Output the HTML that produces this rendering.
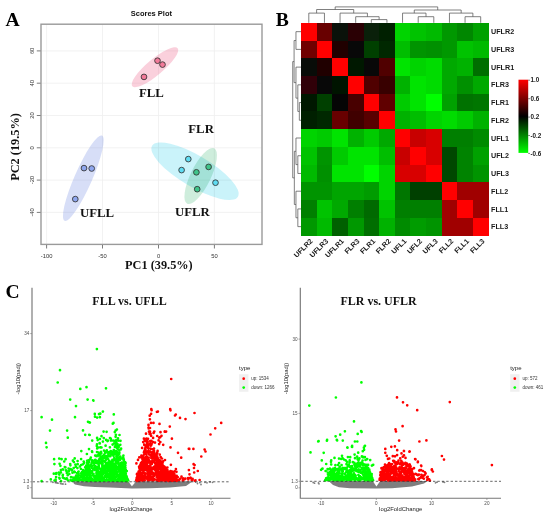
<!DOCTYPE html>
<html><head><meta charset="utf-8"><style>
html,body{margin:0;padding:0;background:#fff;}
body{width:550px;height:517px;overflow:hidden;font-family:"Liberation Sans", sans-serif;}
svg{display:block;will-change:transform;}
</style></head><body>
<svg width="550" height="517" viewBox="0 0 550 517">
<rect width="550" height="517" fill="#fff"/>
<text x="5.6" y="25.8" font-size="19.6" font-weight="bold" fill="#000" font-family='"Liberation Serif", serif'>A</text>
<text x="275.8" y="25.9" font-size="19.6" font-weight="bold" fill="#000" font-family='"Liberation Serif", serif'>B</text>
<g id="pca">
<line x1="46.6" y1="24" x2="46.6" y2="244" stroke="#efefef" stroke-width="0.8"/>
<line x1="102.5" y1="24" x2="102.5" y2="244" stroke="#efefef" stroke-width="0.8"/>
<line x1="158.5" y1="24" x2="158.5" y2="244" stroke="#efefef" stroke-width="0.8"/>
<line x1="214.4" y1="24" x2="214.4" y2="244" stroke="#efefef" stroke-width="0.8"/>
<line x1="41.5" y1="212.4" x2="261.5" y2="212.4" stroke="#efefef" stroke-width="0.8"/>
<line x1="41.5" y1="180.1" x2="261.5" y2="180.1" stroke="#efefef" stroke-width="0.8"/>
<line x1="41.5" y1="147.8" x2="261.5" y2="147.8" stroke="#efefef" stroke-width="0.8"/>
<line x1="41.5" y1="115.5" x2="261.5" y2="115.5" stroke="#efefef" stroke-width="0.8"/>
<line x1="41.5" y1="83.2" x2="261.5" y2="83.2" stroke="#efefef" stroke-width="0.8"/>
<line x1="41.5" y1="50.9" x2="261.5" y2="50.9" stroke="#efefef" stroke-width="0.8"/>
<ellipse cx="155.0" cy="67.2" rx="29.6" ry="8.0" transform="rotate(-40 155.0 67.2)" fill="rgba(240,110,145,0.32)"/>
<ellipse cx="83.3" cy="178.2" rx="46.5" ry="8.8" transform="rotate(-66.3 83.3 178.2)" fill="rgba(110,135,225,0.28)"/>
<ellipse cx="200.7" cy="176.0" rx="30.8" ry="10.1" transform="rotate(-64 200.7 176.0)" fill="rgba(80,190,130,0.28)"/>
<ellipse cx="195.0" cy="171.2" rx="49.9" ry="15.6" transform="rotate(30.7 195.0 171.2)" fill="rgba(60,210,235,0.27)" style="mix-blend-mode:multiply"/>
<circle cx="157.5" cy="60.7" r="2.85" fill="#f27a99" stroke="#333" stroke-width="0.85"/>
<circle cx="162.5" cy="64.6" r="2.85" fill="#f27a99" stroke="#333" stroke-width="0.85"/>
<circle cx="144.0" cy="76.9" r="2.85" fill="#f27a99" stroke="#333" stroke-width="0.85"/>
<circle cx="84.0" cy="168.1" r="2.85" fill="#8ea6ee" stroke="#333" stroke-width="0.85"/>
<circle cx="91.7" cy="168.5" r="2.85" fill="#8ea6ee" stroke="#333" stroke-width="0.85"/>
<circle cx="75.3" cy="199.1" r="2.85" fill="#8ea6ee" stroke="#333" stroke-width="0.85"/>
<circle cx="188.3" cy="159.1" r="2.85" fill="#5fdcf2" stroke="#333" stroke-width="0.85"/>
<circle cx="181.6" cy="170.1" r="2.85" fill="#5fdcf2" stroke="#333" stroke-width="0.85"/>
<circle cx="215.5" cy="182.7" r="2.85" fill="#5fdcf2" stroke="#333" stroke-width="0.85"/>
<circle cx="208.6" cy="166.9" r="2.85" fill="#3fc48a" stroke="#333" stroke-width="0.85"/>
<circle cx="196.4" cy="172.3" r="2.85" fill="#3fc48a" stroke="#333" stroke-width="0.85"/>
<circle cx="197.2" cy="189.2" r="2.85" fill="#3fc48a" stroke="#333" stroke-width="0.85"/>
<rect x="41" y="24.2" width="221" height="220.2" fill="none" stroke="#9a9a9a" stroke-width="1.4"/>
<line x1="46.6" y1="245" x2="46.6" y2="248.5" stroke="#444" stroke-width="0.7"/>
<text x="46.6" y="258" font-size="5.8" text-anchor="middle" fill="#333" font-family='"Liberation Sans", sans-serif'>-100</text>
<line x1="102.5" y1="245" x2="102.5" y2="248.5" stroke="#444" stroke-width="0.7"/>
<text x="102.5" y="258" font-size="5.8" text-anchor="middle" fill="#333" font-family='"Liberation Sans", sans-serif'>-50</text>
<line x1="158.5" y1="245" x2="158.5" y2="248.5" stroke="#444" stroke-width="0.7"/>
<text x="158.5" y="258" font-size="5.8" text-anchor="middle" fill="#333" font-family='"Liberation Sans", sans-serif'>0</text>
<line x1="214.4" y1="245" x2="214.4" y2="248.5" stroke="#444" stroke-width="0.7"/>
<text x="214.4" y="258" font-size="5.8" text-anchor="middle" fill="#333" font-family='"Liberation Sans", sans-serif'>50</text>
<line x1="36.8" y1="212.4" x2="40.5" y2="212.4" stroke="#444" stroke-width="0.7"/>
<text transform="translate(33.6 212.4) rotate(-90)" font-size="5.8" text-anchor="middle" fill="#333" font-family='"Liberation Sans", sans-serif'>-40</text>
<line x1="36.8" y1="180.1" x2="40.5" y2="180.1" stroke="#444" stroke-width="0.7"/>
<text transform="translate(33.6 180.1) rotate(-90)" font-size="5.8" text-anchor="middle" fill="#333" font-family='"Liberation Sans", sans-serif'>-20</text>
<line x1="36.8" y1="147.8" x2="40.5" y2="147.8" stroke="#444" stroke-width="0.7"/>
<text transform="translate(33.6 147.8) rotate(-90)" font-size="5.8" text-anchor="middle" fill="#333" font-family='"Liberation Sans", sans-serif'>0</text>
<line x1="36.8" y1="115.5" x2="40.5" y2="115.5" stroke="#444" stroke-width="0.7"/>
<text transform="translate(33.6 115.5) rotate(-90)" font-size="5.8" text-anchor="middle" fill="#333" font-family='"Liberation Sans", sans-serif'>20</text>
<line x1="36.8" y1="83.2" x2="40.5" y2="83.2" stroke="#444" stroke-width="0.7"/>
<text transform="translate(33.6 83.2) rotate(-90)" font-size="5.8" text-anchor="middle" fill="#333" font-family='"Liberation Sans", sans-serif'>40</text>
<line x1="36.8" y1="50.9" x2="40.5" y2="50.9" stroke="#444" stroke-width="0.7"/>
<text transform="translate(33.6 50.9) rotate(-90)" font-size="5.8" text-anchor="middle" fill="#333" font-family='"Liberation Sans", sans-serif'>60</text>
<text x="151.4" y="15.9" font-size="7.5" font-weight="bold" text-anchor="middle" fill="#111" font-family='"Liberation Sans", sans-serif'>Scores Plot</text>
<text x="158.9" y="269.2" font-size="12.3" font-weight="bold" text-anchor="middle" fill="#111" font-family='"Liberation Serif", serif'>PC1 (39.5%)</text>
<text transform="translate(18.8 147) rotate(-90)" font-size="12.3" font-weight="bold" text-anchor="middle" fill="#111" font-family='"Liberation Serif", serif'>PC2 (19.5%)</text>
<text x="138.9" y="97.4" font-size="12.8" font-weight="bold" fill="#111" font-family='"Liberation Serif", serif'>FLL</text>
<text x="80.0" y="217.3" font-size="12.8" font-weight="bold" fill="#111" font-family='"Liberation Serif", serif'>UFLL</text>
<text x="188.3" y="132.7" font-size="12.8" font-weight="bold" fill="#111" font-family='"Liberation Serif", serif'>FLR</text>
<text x="174.9" y="216.0" font-size="12.8" font-weight="bold" fill="#111" font-family='"Liberation Serif", serif'>UFLR</text>
</g>
<g id="heat">
<rect x="301.00" y="22.80" width="15.93" height="18.03" fill="#ff0000" shape-rendering="crispEdges"/>
<rect x="316.62" y="22.80" width="15.93" height="18.03" fill="#680000" shape-rendering="crispEdges"/>
<rect x="332.25" y="22.80" width="15.93" height="18.03" fill="#0a120a" shape-rendering="crispEdges"/>
<rect x="347.88" y="22.80" width="15.93" height="18.03" fill="#2a0004" shape-rendering="crispEdges"/>
<rect x="363.50" y="22.80" width="15.93" height="18.03" fill="#0a200a" shape-rendering="crispEdges"/>
<rect x="379.12" y="22.80" width="15.93" height="18.03" fill="#002000" shape-rendering="crispEdges"/>
<rect x="394.75" y="22.80" width="15.93" height="18.03" fill="#00d400" shape-rendering="crispEdges"/>
<rect x="410.38" y="22.80" width="15.93" height="18.03" fill="#00c300" shape-rendering="crispEdges"/>
<rect x="426.00" y="22.80" width="15.93" height="18.03" fill="#00ba00" shape-rendering="crispEdges"/>
<rect x="441.62" y="22.80" width="15.93" height="18.03" fill="#009800" shape-rendering="crispEdges"/>
<rect x="457.25" y="22.80" width="15.93" height="18.03" fill="#008700" shape-rendering="crispEdges"/>
<rect x="472.88" y="22.80" width="15.93" height="18.03" fill="#00a100" shape-rendering="crispEdges"/>
<rect x="301.00" y="40.53" width="15.93" height="18.03" fill="#700000" shape-rendering="crispEdges"/>
<rect x="316.62" y="40.53" width="15.93" height="18.03" fill="#ff0000" shape-rendering="crispEdges"/>
<rect x="332.25" y="40.53" width="15.93" height="18.03" fill="#200000" shape-rendering="crispEdges"/>
<rect x="347.88" y="40.53" width="15.93" height="18.03" fill="#080808" shape-rendering="crispEdges"/>
<rect x="363.50" y="40.53" width="15.93" height="18.03" fill="#004000" shape-rendering="crispEdges"/>
<rect x="379.12" y="40.53" width="15.93" height="18.03" fill="#002800" shape-rendering="crispEdges"/>
<rect x="394.75" y="40.53" width="15.93" height="18.03" fill="#00be00" shape-rendering="crispEdges"/>
<rect x="410.38" y="40.53" width="15.93" height="18.03" fill="#009400" shape-rendering="crispEdges"/>
<rect x="426.00" y="40.53" width="15.93" height="18.03" fill="#009000" shape-rendering="crispEdges"/>
<rect x="441.62" y="40.53" width="15.93" height="18.03" fill="#009800" shape-rendering="crispEdges"/>
<rect x="457.25" y="40.53" width="15.93" height="18.03" fill="#00c300" shape-rendering="crispEdges"/>
<rect x="472.88" y="40.53" width="15.93" height="18.03" fill="#00ba00" shape-rendering="crispEdges"/>
<rect x="301.00" y="58.25" width="15.93" height="18.03" fill="#080c08" shape-rendering="crispEdges"/>
<rect x="316.62" y="58.25" width="15.93" height="18.03" fill="#200000" shape-rendering="crispEdges"/>
<rect x="332.25" y="58.25" width="15.93" height="18.03" fill="#ff0000" shape-rendering="crispEdges"/>
<rect x="347.88" y="58.25" width="15.93" height="18.03" fill="#001800" shape-rendering="crispEdges"/>
<rect x="363.50" y="58.25" width="15.93" height="18.03" fill="#080808" shape-rendering="crispEdges"/>
<rect x="379.12" y="58.25" width="15.93" height="18.03" fill="#500000" shape-rendering="crispEdges"/>
<rect x="394.75" y="58.25" width="15.93" height="18.03" fill="#00e400" shape-rendering="crispEdges"/>
<rect x="410.38" y="58.25" width="15.93" height="18.03" fill="#00d400" shape-rendering="crispEdges"/>
<rect x="426.00" y="58.25" width="15.93" height="18.03" fill="#00dc00" shape-rendering="crispEdges"/>
<rect x="441.62" y="58.25" width="15.93" height="18.03" fill="#00a900" shape-rendering="crispEdges"/>
<rect x="457.25" y="58.25" width="15.93" height="18.03" fill="#00b200" shape-rendering="crispEdges"/>
<rect x="472.88" y="58.25" width="15.93" height="18.03" fill="#006e00" shape-rendering="crispEdges"/>
<rect x="301.00" y="75.98" width="15.93" height="18.03" fill="#300008" shape-rendering="crispEdges"/>
<rect x="316.62" y="75.98" width="15.93" height="18.03" fill="#080808" shape-rendering="crispEdges"/>
<rect x="332.25" y="75.98" width="15.93" height="18.03" fill="#001400" shape-rendering="crispEdges"/>
<rect x="347.88" y="75.98" width="15.93" height="18.03" fill="#ff0000" shape-rendering="crispEdges"/>
<rect x="363.50" y="75.98" width="15.93" height="18.03" fill="#500000" shape-rendering="crispEdges"/>
<rect x="379.12" y="75.98" width="15.93" height="18.03" fill="#380000" shape-rendering="crispEdges"/>
<rect x="394.75" y="75.98" width="15.93" height="18.03" fill="#00b200" shape-rendering="crispEdges"/>
<rect x="410.38" y="75.98" width="15.93" height="18.03" fill="#00e400" shape-rendering="crispEdges"/>
<rect x="426.00" y="75.98" width="15.93" height="18.03" fill="#00dc00" shape-rendering="crispEdges"/>
<rect x="441.62" y="75.98" width="15.93" height="18.03" fill="#00a900" shape-rendering="crispEdges"/>
<rect x="457.25" y="75.98" width="15.93" height="18.03" fill="#009000" shape-rendering="crispEdges"/>
<rect x="472.88" y="75.98" width="15.93" height="18.03" fill="#00a900" shape-rendering="crispEdges"/>
<rect x="301.00" y="93.70" width="15.93" height="18.03" fill="#001800" shape-rendering="crispEdges"/>
<rect x="316.62" y="93.70" width="15.93" height="18.03" fill="#004000" shape-rendering="crispEdges"/>
<rect x="332.25" y="93.70" width="15.93" height="18.03" fill="#050505" shape-rendering="crispEdges"/>
<rect x="347.88" y="93.70" width="15.93" height="18.03" fill="#480000" shape-rendering="crispEdges"/>
<rect x="363.50" y="93.70" width="15.93" height="18.03" fill="#ff0000" shape-rendering="crispEdges"/>
<rect x="379.12" y="93.70" width="15.93" height="18.03" fill="#600000" shape-rendering="crispEdges"/>
<rect x="394.75" y="93.70" width="15.93" height="18.03" fill="#00cb00" shape-rendering="crispEdges"/>
<rect x="410.38" y="93.70" width="15.93" height="18.03" fill="#00e400" shape-rendering="crispEdges"/>
<rect x="426.00" y="93.70" width="15.93" height="18.03" fill="#00ff00" shape-rendering="crispEdges"/>
<rect x="441.62" y="93.70" width="15.93" height="18.03" fill="#00a100" shape-rendering="crispEdges"/>
<rect x="457.25" y="93.70" width="15.93" height="18.03" fill="#007200" shape-rendering="crispEdges"/>
<rect x="472.88" y="93.70" width="15.93" height="18.03" fill="#007600" shape-rendering="crispEdges"/>
<rect x="301.00" y="111.42" width="15.93" height="18.03" fill="#002000" shape-rendering="crispEdges"/>
<rect x="316.62" y="111.42" width="15.93" height="18.03" fill="#002800" shape-rendering="crispEdges"/>
<rect x="332.25" y="111.42" width="15.93" height="18.03" fill="#680000" shape-rendering="crispEdges"/>
<rect x="347.88" y="111.42" width="15.93" height="18.03" fill="#400000" shape-rendering="crispEdges"/>
<rect x="363.50" y="111.42" width="15.93" height="18.03" fill="#580000" shape-rendering="crispEdges"/>
<rect x="379.12" y="111.42" width="15.93" height="18.03" fill="#ff0000" shape-rendering="crispEdges"/>
<rect x="394.75" y="111.42" width="15.93" height="18.03" fill="#00b200" shape-rendering="crispEdges"/>
<rect x="410.38" y="111.42" width="15.93" height="18.03" fill="#00be00" shape-rendering="crispEdges"/>
<rect x="426.00" y="111.42" width="15.93" height="18.03" fill="#00d400" shape-rendering="crispEdges"/>
<rect x="441.62" y="111.42" width="15.93" height="18.03" fill="#00dc00" shape-rendering="crispEdges"/>
<rect x="457.25" y="111.42" width="15.93" height="18.03" fill="#00cb00" shape-rendering="crispEdges"/>
<rect x="472.88" y="111.42" width="15.93" height="18.03" fill="#00b200" shape-rendering="crispEdges"/>
<rect x="301.00" y="129.15" width="15.93" height="18.03" fill="#00d400" shape-rendering="crispEdges"/>
<rect x="316.62" y="129.15" width="15.93" height="18.03" fill="#00cb00" shape-rendering="crispEdges"/>
<rect x="332.25" y="129.15" width="15.93" height="18.03" fill="#00e400" shape-rendering="crispEdges"/>
<rect x="347.88" y="129.15" width="15.93" height="18.03" fill="#00b200" shape-rendering="crispEdges"/>
<rect x="363.50" y="129.15" width="15.93" height="18.03" fill="#00cb00" shape-rendering="crispEdges"/>
<rect x="379.12" y="129.15" width="15.93" height="18.03" fill="#00a900" shape-rendering="crispEdges"/>
<rect x="394.75" y="129.15" width="15.93" height="18.03" fill="#ff0000" shape-rendering="crispEdges"/>
<rect x="410.38" y="129.15" width="15.93" height="18.03" fill="#c80000" shape-rendering="crispEdges"/>
<rect x="426.00" y="129.15" width="15.93" height="18.03" fill="#d80000" shape-rendering="crispEdges"/>
<rect x="441.62" y="129.15" width="15.93" height="18.03" fill="#007f00" shape-rendering="crispEdges"/>
<rect x="457.25" y="129.15" width="15.93" height="18.03" fill="#007f00" shape-rendering="crispEdges"/>
<rect x="472.88" y="129.15" width="15.93" height="18.03" fill="#008b00" shape-rendering="crispEdges"/>
<rect x="301.00" y="146.88" width="15.93" height="18.03" fill="#00c300" shape-rendering="crispEdges"/>
<rect x="316.62" y="146.88" width="15.93" height="18.03" fill="#009400" shape-rendering="crispEdges"/>
<rect x="332.25" y="146.88" width="15.93" height="18.03" fill="#00cb00" shape-rendering="crispEdges"/>
<rect x="347.88" y="146.88" width="15.93" height="18.03" fill="#00e400" shape-rendering="crispEdges"/>
<rect x="363.50" y="146.88" width="15.93" height="18.03" fill="#00e400" shape-rendering="crispEdges"/>
<rect x="379.12" y="146.88" width="15.93" height="18.03" fill="#00be00" shape-rendering="crispEdges"/>
<rect x="394.75" y="146.88" width="15.93" height="18.03" fill="#c80000" shape-rendering="crispEdges"/>
<rect x="410.38" y="146.88" width="15.93" height="18.03" fill="#ff0000" shape-rendering="crispEdges"/>
<rect x="426.00" y="146.88" width="15.93" height="18.03" fill="#d80000" shape-rendering="crispEdges"/>
<rect x="441.62" y="146.88" width="15.93" height="18.03" fill="#004800" shape-rendering="crispEdges"/>
<rect x="457.25" y="146.88" width="15.93" height="18.03" fill="#008300" shape-rendering="crispEdges"/>
<rect x="472.88" y="146.88" width="15.93" height="18.03" fill="#00a100" shape-rendering="crispEdges"/>
<rect x="301.00" y="164.60" width="15.93" height="18.03" fill="#00ba00" shape-rendering="crispEdges"/>
<rect x="316.62" y="164.60" width="15.93" height="18.03" fill="#009000" shape-rendering="crispEdges"/>
<rect x="332.25" y="164.60" width="15.93" height="18.03" fill="#00e400" shape-rendering="crispEdges"/>
<rect x="347.88" y="164.60" width="15.93" height="18.03" fill="#00e400" shape-rendering="crispEdges"/>
<rect x="363.50" y="164.60" width="15.93" height="18.03" fill="#00ff00" shape-rendering="crispEdges"/>
<rect x="379.12" y="164.60" width="15.93" height="18.03" fill="#00d400" shape-rendering="crispEdges"/>
<rect x="394.75" y="164.60" width="15.93" height="18.03" fill="#d80000" shape-rendering="crispEdges"/>
<rect x="410.38" y="164.60" width="15.93" height="18.03" fill="#d80000" shape-rendering="crispEdges"/>
<rect x="426.00" y="164.60" width="15.93" height="18.03" fill="#ff0000" shape-rendering="crispEdges"/>
<rect x="441.62" y="164.60" width="15.93" height="18.03" fill="#004800" shape-rendering="crispEdges"/>
<rect x="457.25" y="164.60" width="15.93" height="18.03" fill="#008300" shape-rendering="crispEdges"/>
<rect x="472.88" y="164.60" width="15.93" height="18.03" fill="#009400" shape-rendering="crispEdges"/>
<rect x="301.00" y="182.33" width="15.93" height="18.03" fill="#009400" shape-rendering="crispEdges"/>
<rect x="316.62" y="182.33" width="15.93" height="18.03" fill="#009400" shape-rendering="crispEdges"/>
<rect x="332.25" y="182.33" width="15.93" height="18.03" fill="#00a500" shape-rendering="crispEdges"/>
<rect x="347.88" y="182.33" width="15.93" height="18.03" fill="#00a500" shape-rendering="crispEdges"/>
<rect x="363.50" y="182.33" width="15.93" height="18.03" fill="#009c00" shape-rendering="crispEdges"/>
<rect x="379.12" y="182.33" width="15.93" height="18.03" fill="#00d400" shape-rendering="crispEdges"/>
<rect x="394.75" y="182.33" width="15.93" height="18.03" fill="#007600" shape-rendering="crispEdges"/>
<rect x="410.38" y="182.33" width="15.93" height="18.03" fill="#004000" shape-rendering="crispEdges"/>
<rect x="426.00" y="182.33" width="15.93" height="18.03" fill="#004000" shape-rendering="crispEdges"/>
<rect x="441.62" y="182.33" width="15.93" height="18.03" fill="#ff0000" shape-rendering="crispEdges"/>
<rect x="457.25" y="182.33" width="15.93" height="18.03" fill="#a00000" shape-rendering="crispEdges"/>
<rect x="472.88" y="182.33" width="15.93" height="18.03" fill="#a00000" shape-rendering="crispEdges"/>
<rect x="301.00" y="200.05" width="15.93" height="18.03" fill="#007f00" shape-rendering="crispEdges"/>
<rect x="316.62" y="200.05" width="15.93" height="18.03" fill="#00c300" shape-rendering="crispEdges"/>
<rect x="332.25" y="200.05" width="15.93" height="18.03" fill="#00a900" shape-rendering="crispEdges"/>
<rect x="347.88" y="200.05" width="15.93" height="18.03" fill="#007f00" shape-rendering="crispEdges"/>
<rect x="363.50" y="200.05" width="15.93" height="18.03" fill="#006a00" shape-rendering="crispEdges"/>
<rect x="379.12" y="200.05" width="15.93" height="18.03" fill="#00c300" shape-rendering="crispEdges"/>
<rect x="394.75" y="200.05" width="15.93" height="18.03" fill="#007f00" shape-rendering="crispEdges"/>
<rect x="410.38" y="200.05" width="15.93" height="18.03" fill="#007f00" shape-rendering="crispEdges"/>
<rect x="426.00" y="200.05" width="15.93" height="18.03" fill="#007f00" shape-rendering="crispEdges"/>
<rect x="441.62" y="200.05" width="15.93" height="18.03" fill="#a00000" shape-rendering="crispEdges"/>
<rect x="457.25" y="200.05" width="15.93" height="18.03" fill="#ff0000" shape-rendering="crispEdges"/>
<rect x="472.88" y="200.05" width="15.93" height="18.03" fill="#a00000" shape-rendering="crispEdges"/>
<rect x="301.00" y="217.78" width="15.93" height="18.03" fill="#009800" shape-rendering="crispEdges"/>
<rect x="316.62" y="217.78" width="15.93" height="18.03" fill="#00ba00" shape-rendering="crispEdges"/>
<rect x="332.25" y="217.78" width="15.93" height="18.03" fill="#006000" shape-rendering="crispEdges"/>
<rect x="347.88" y="217.78" width="15.93" height="18.03" fill="#009800" shape-rendering="crispEdges"/>
<rect x="363.50" y="217.78" width="15.93" height="18.03" fill="#006e00" shape-rendering="crispEdges"/>
<rect x="379.12" y="217.78" width="15.93" height="18.03" fill="#00b200" shape-rendering="crispEdges"/>
<rect x="394.75" y="217.78" width="15.93" height="18.03" fill="#008b00" shape-rendering="crispEdges"/>
<rect x="410.38" y="217.78" width="15.93" height="18.03" fill="#009c00" shape-rendering="crispEdges"/>
<rect x="426.00" y="217.78" width="15.93" height="18.03" fill="#009400" shape-rendering="crispEdges"/>
<rect x="441.62" y="217.78" width="15.93" height="18.03" fill="#a00000" shape-rendering="crispEdges"/>
<rect x="457.25" y="217.78" width="15.93" height="18.03" fill="#a00000" shape-rendering="crispEdges"/>
<rect x="472.88" y="217.78" width="15.93" height="18.03" fill="#ff0000" shape-rendering="crispEdges"/>
<path d="M371.31 22.80L371.31 19.60 M386.94 22.80L386.94 19.60 M371.31 19.60L386.94 19.60 M355.69 22.80L355.69 16.70 M379.12 19.60L379.12 16.70 M355.69 16.70L379.12 16.70 M340.06 22.80L340.06 13.10 M367.41 16.70L367.41 13.10 M340.06 13.10L367.41 13.10 M308.81 22.80L308.81 13.10 M324.44 22.80L324.44 13.10 M308.81 13.10L324.44 13.10 M316.62 13.10L316.62 9.50 M353.73 13.10L353.73 9.50 M316.62 9.50L353.73 9.50 M418.19 22.80L418.19 16.70 M433.81 22.80L433.81 16.70 M418.19 16.70L433.81 16.70 M402.56 22.80L402.56 13.10 M426.00 16.70L426.00 13.10 M402.56 13.10L426.00 13.10 M465.06 22.80L465.06 16.70 M480.69 22.80L480.69 16.70 M465.06 16.70L480.69 16.70 M449.44 22.80L449.44 13.10 M472.88 16.70L472.88 13.10 M449.44 13.10L472.88 13.10 M414.28 13.10L414.28 10.00 M461.16 13.10L461.16 10.00 M414.28 10.00L461.16 10.00 M335.18 9.50L335.18 6.90 M437.72 10.00L437.72 6.90 M335.18 6.90L437.72 6.90" stroke="#555" stroke-width="0.75" fill="none"/>
<path d="M301.00 102.56L299.34 102.56 M301.00 120.29L299.34 120.29 M299.34 102.56L299.34 120.29 M301.00 84.84L297.83 84.84 M299.34 111.43L297.83 111.43 M297.83 84.84L297.83 111.43 M301.00 67.11L295.96 67.11 M297.83 98.13L295.96 98.13 M295.96 67.11L295.96 98.13 M301.00 31.66L295.96 31.66 M301.00 49.39L295.96 49.39 M295.96 31.66L295.96 49.39 M295.96 40.53L294.08 40.53 M295.96 82.62L294.08 82.62 M294.08 40.53L294.08 82.62 M301.00 155.74L297.83 155.74 M301.00 173.46L297.83 173.46 M297.83 155.74L297.83 173.46 M301.00 138.01L295.96 138.01 M297.83 164.60L295.96 164.60 M295.96 138.01L295.96 164.60 M301.00 208.91L297.83 208.91 M301.00 226.64L297.83 226.64 M297.83 208.91L297.83 226.64 M301.00 191.19L295.96 191.19 M297.83 217.78L295.96 217.78 M295.96 191.19L295.96 217.78 M295.96 151.31L294.34 151.31 M295.96 204.48L294.34 204.48 M294.34 151.31L294.34 204.48 M294.08 61.57L292.73 61.57 M294.34 177.89L292.73 177.89 M292.73 61.57L292.73 177.89" stroke="#555" stroke-width="0.75" fill="none"/>
<text x="491" y="34.26" font-size="7.2" font-weight="bold" fill="#1a1a1a" font-family='"Liberation Sans", sans-serif'>UFLR2</text>
<text transform="translate(313.21 241.6) rotate(-45)" font-size="7.2" font-weight="bold" text-anchor="end" fill="#1a1a1a" font-family='"Liberation Sans", sans-serif'>UFLR2</text>
<text x="491" y="51.99" font-size="7.2" font-weight="bold" fill="#1a1a1a" font-family='"Liberation Sans", sans-serif'>UFLR3</text>
<text transform="translate(328.84 241.6) rotate(-45)" font-size="7.2" font-weight="bold" text-anchor="end" fill="#1a1a1a" font-family='"Liberation Sans", sans-serif'>UFLR3</text>
<text x="491" y="69.71" font-size="7.2" font-weight="bold" fill="#1a1a1a" font-family='"Liberation Sans", sans-serif'>UFLR1</text>
<text transform="translate(344.46 241.6) rotate(-45)" font-size="7.2" font-weight="bold" text-anchor="end" fill="#1a1a1a" font-family='"Liberation Sans", sans-serif'>UFLR1</text>
<text x="491" y="87.44" font-size="7.2" font-weight="bold" fill="#1a1a1a" font-family='"Liberation Sans", sans-serif'>FLR3</text>
<text transform="translate(360.09 241.6) rotate(-45)" font-size="7.2" font-weight="bold" text-anchor="end" fill="#1a1a1a" font-family='"Liberation Sans", sans-serif'>FLR3</text>
<text x="491" y="105.16" font-size="7.2" font-weight="bold" fill="#1a1a1a" font-family='"Liberation Sans", sans-serif'>FLR1</text>
<text transform="translate(375.71 241.6) rotate(-45)" font-size="7.2" font-weight="bold" text-anchor="end" fill="#1a1a1a" font-family='"Liberation Sans", sans-serif'>FLR1</text>
<text x="491" y="122.89" font-size="7.2" font-weight="bold" fill="#1a1a1a" font-family='"Liberation Sans", sans-serif'>FLR2</text>
<text transform="translate(391.34 241.6) rotate(-45)" font-size="7.2" font-weight="bold" text-anchor="end" fill="#1a1a1a" font-family='"Liberation Sans", sans-serif'>FLR2</text>
<text x="491" y="140.61" font-size="7.2" font-weight="bold" fill="#1a1a1a" font-family='"Liberation Sans", sans-serif'>UFL1</text>
<text transform="translate(406.96 241.6) rotate(-45)" font-size="7.2" font-weight="bold" text-anchor="end" fill="#1a1a1a" font-family='"Liberation Sans", sans-serif'>UFL1</text>
<text x="491" y="158.34" font-size="7.2" font-weight="bold" fill="#1a1a1a" font-family='"Liberation Sans", sans-serif'>UFL2</text>
<text transform="translate(422.59 241.6) rotate(-45)" font-size="7.2" font-weight="bold" text-anchor="end" fill="#1a1a1a" font-family='"Liberation Sans", sans-serif'>UFL2</text>
<text x="491" y="176.06" font-size="7.2" font-weight="bold" fill="#1a1a1a" font-family='"Liberation Sans", sans-serif'>UFL3</text>
<text transform="translate(438.21 241.6) rotate(-45)" font-size="7.2" font-weight="bold" text-anchor="end" fill="#1a1a1a" font-family='"Liberation Sans", sans-serif'>UFL3</text>
<text x="491" y="193.79" font-size="7.2" font-weight="bold" fill="#1a1a1a" font-family='"Liberation Sans", sans-serif'>FLL2</text>
<text transform="translate(453.84 241.6) rotate(-45)" font-size="7.2" font-weight="bold" text-anchor="end" fill="#1a1a1a" font-family='"Liberation Sans", sans-serif'>FLL2</text>
<text x="491" y="211.51" font-size="7.2" font-weight="bold" fill="#1a1a1a" font-family='"Liberation Sans", sans-serif'>FLL1</text>
<text transform="translate(469.46 241.6) rotate(-45)" font-size="7.2" font-weight="bold" text-anchor="end" fill="#1a1a1a" font-family='"Liberation Sans", sans-serif'>FLL1</text>
<text x="491" y="229.24" font-size="7.2" font-weight="bold" fill="#1a1a1a" font-family='"Liberation Sans", sans-serif'>FLL3</text>
<text transform="translate(485.09 241.6) rotate(-45)" font-size="7.2" font-weight="bold" text-anchor="end" fill="#1a1a1a" font-family='"Liberation Sans", sans-serif'>FLL3</text>
<defs><linearGradient id="ck" x1="0" y1="0" x2="0" y2="1"><stop offset="0" stop-color="#ff0000"/><stop offset="0.5" stop-color="#000000"/><stop offset="1" stop-color="#00ff00"/></linearGradient></defs>
<rect x="518.5" y="79.7" width="9.7" height="73.2" fill="url(#ck)"/>
<line x1="528.2" y1="80.2" x2="530" y2="80.2" stroke="#333" stroke-width="0.6"/>
<text x="530.4" y="82.4" font-size="6.3" font-weight="bold" fill="#1a1a1a" font-family='"Liberation Sans", sans-serif'>1.0</text>
<line x1="528.2" y1="98.7" x2="530" y2="98.7" stroke="#333" stroke-width="0.6"/>
<text x="530.4" y="100.9" font-size="6.3" font-weight="bold" fill="#1a1a1a" font-family='"Liberation Sans", sans-serif'>0.6</text>
<line x1="528.2" y1="117.1" x2="530" y2="117.1" stroke="#333" stroke-width="0.6"/>
<text x="530.4" y="119.3" font-size="6.3" font-weight="bold" fill="#1a1a1a" font-family='"Liberation Sans", sans-serif'>0.2</text>
<line x1="528.2" y1="135.5" x2="530" y2="135.5" stroke="#333" stroke-width="0.6"/>
<text x="530.4" y="137.7" font-size="6.3" font-weight="bold" fill="#1a1a1a" font-family='"Liberation Sans", sans-serif'>-0.2</text>
<line x1="528.2" y1="153.4" x2="530" y2="153.4" stroke="#333" stroke-width="0.6"/>
<text x="530.4" y="155.6" font-size="6.3" font-weight="bold" fill="#1a1a1a" font-family='"Liberation Sans", sans-serif'>-0.6</text>
</g>
<path d="M74 481.2H192.8L186 486L170 487.6L150 488.3L132 488.6L110 487.6L95 487L84 486.2L75 484.6Q72.5 483 74 481.2Z" fill="#7f7f7f"/>
<path d="M53.0 482.3h0M55.5 482.7h0M58.0 483.2h0M60.5 483.6h0M63.0 484.0h0M65.5 484.2h0M57.0 482.9h0M62.0 483.9h0M195.6 482.0h0M197.5 483.5h0M199.8 482.6h0M201.0 484.5h0M205.0 482.3h0M207.0 482.8h0M210.0 481.9h0M212.5 482.3h0" stroke="#7f7f7f" stroke-width="1.80" stroke-linecap="round" fill="none"/>
<path d="M115.1 468.9h0M97.4 462.5h0M77.3 476.8h0M112.7 452.3h0M122.8 480.7h0M93.5 473.8h0M73.6 480.3h0M100.0 477.1h0M88.3 467.3h0M103.4 477.9h0M128.0 480.7h0M112.1 471.2h0M118.8 475.1h0M105.1 457.8h0M100.5 480.5h0M95.4 470.1h0M111.7 472.7h0M96.8 463.1h0M101.4 470.3h0M73.7 479.9h0M127.5 480.1h0M127.4 479.6h0M120.5 471.2h0M125.7 478.1h0M126.0 475.8h0M118.3 461.3h0M117.6 467.0h0M96.0 460.6h0M104.1 469.5h0M99.3 474.5h0M102.4 466.4h0M97.8 477.3h0M120.6 463.5h0M118.0 457.4h0M110.0 480.7h0M86.1 473.0h0M91.4 479.1h0M101.7 476.0h0M112.1 474.2h0M98.7 473.6h0M95.7 479.6h0M122.7 478.8h0M106.2 480.6h0M73.0 480.3h0M110.2 476.9h0M127.0 479.2h0M94.3 475.8h0M107.6 475.0h0M126.6 479.8h0M120.4 458.8h0M114.0 476.0h0M126.3 480.2h0M120.9 466.9h0M100.7 474.3h0M96.4 479.6h0M109.6 469.0h0M122.7 478.9h0M116.1 477.0h0M110.0 453.3h0M110.8 451.0h0M76.8 476.8h0M105.9 473.3h0M91.2 464.3h0M106.1 456.0h0M77.9 480.6h0M120.9 463.2h0M116.1 466.4h0M84.6 478.6h0M122.2 464.2h0M97.8 462.4h0M118.7 464.1h0M77.2 476.6h0M127.7 480.7h0M81.4 474.5h0M123.3 478.4h0M98.9 466.2h0M74.2 478.8h0M97.4 480.2h0M123.5 466.9h0M78.3 477.6h0M127.3 479.0h0M109.3 467.7h0M89.3 480.2h0M97.3 467.0h0M125.1 478.8h0M90.5 465.4h0M122.4 476.7h0M102.7 466.9h0M85.8 478.7h0M76.0 478.7h0M116.8 452.1h0M127.5 480.3h0M123.9 469.2h0M122.9 466.5h0M119.4 464.4h0M109.7 480.1h0M126.3 478.2h0M102.5 471.2h0M94.3 477.1h0M95.5 480.2h0M92.0 479.5h0M94.4 468.8h0M85.2 475.0h0M100.3 472.0h0M110.7 476.4h0M99.9 477.2h0M95.3 459.8h0M123.8 473.2h0M74.7 479.8h0M121.5 466.4h0M121.8 468.8h0M119.9 464.9h0M113.5 455.8h0M122.6 472.6h0M81.9 479.5h0M104.1 480.3h0M110.4 473.5h0M101.0 463.0h0M117.6 475.7h0M123.5 479.8h0M115.8 463.2h0M111.5 453.4h0M126.8 477.4h0M96.4 475.4h0M126.1 477.5h0M95.0 476.2h0M72.2 480.8h0M106.2 477.3h0M116.6 451.1h0M102.8 458.1h0M115.4 472.4h0M88.0 468.2h0M114.9 478.7h0M100.2 475.3h0M100.4 469.4h0M97.4 473.5h0M116.2 469.0h0M108.5 477.3h0M105.7 458.2h0M127.7 480.6h0M107.0 473.4h0M96.0 460.9h0M105.0 455.9h0M114.2 460.1h0M108.1 464.8h0M95.0 468.0h0M124.9 472.5h0M115.3 465.2h0M91.7 467.9h0M121.3 479.1h0M119.0 470.7h0M114.0 473.2h0M109.0 468.8h0M125.4 478.2h0M110.9 477.1h0M87.2 468.4h0M101.5 469.7h0M113.6 463.5h0M112.2 475.6h0M106.4 467.4h0M120.9 477.8h0M126.4 476.2h0M107.1 471.3h0M115.0 477.5h0M107.3 452.3h0M113.1 475.8h0M101.7 478.9h0M112.4 459.9h0M112.5 479.3h0M94.4 479.8h0M82.5 475.5h0M122.1 480.6h0M111.7 451.7h0M106.6 457.7h0M99.9 478.4h0M98.1 477.7h0M112.3 465.6h0M123.3 480.6h0M117.0 474.2h0M93.6 460.8h0M114.8 453.5h0M72.9 480.4h0M119.4 480.5h0M78.6 480.7h0M108.0 462.9h0M119.7 473.5h0M107.6 464.5h0M85.7 467.8h0M105.3 466.1h0M103.6 480.2h0M91.9 478.5h0M121.6 469.2h0M112.2 461.1h0M114.4 451.0h0M120.2 480.3h0M98.5 455.6h0M97.0 473.7h0M111.9 480.6h0M101.6 460.4h0M76.8 479.5h0M113.3 478.8h0M116.8 455.8h0M89.1 478.1h0M103.4 474.2h0M116.2 465.9h0M112.6 461.8h0M118.9 478.5h0M92.9 479.9h0M108.7 475.0h0M91.9 466.8h0M100.3 478.8h0M123.6 477.6h0M124.3 471.6h0M124.2 471.6h0M116.2 460.0h0M108.3 470.2h0M127.3 480.5h0M103.7 477.9h0M74.8 479.6h0M87.0 478.2h0M107.7 479.8h0M108.3 456.4h0M119.8 476.1h0M122.3 465.7h0M122.4 470.2h0M117.0 457.5h0M128.3 480.8h0M114.1 468.2h0M99.5 458.5h0M116.9 480.4h0M120.0 478.1h0M72.3 480.8h0M122.0 462.5h0M102.6 468.3h0M101.6 459.7h0M125.8 476.7h0M89.4 473.6h0M105.1 452.9h0M128.1 480.5h0M92.8 461.1h0M122.5 465.5h0M124.2 477.4h0M98.2 474.0h0M114.3 473.7h0M97.7 474.5h0M95.4 478.6h0M105.3 452.0h0M113.7 470.8h0M115.8 461.2h0M112.4 478.9h0M126.5 480.8h0M125.7 475.7h0M119.1 466.3h0M128.2 480.7h0M126.7 478.6h0M95.7 479.4h0M87.0 475.0h0M116.7 458.5h0M110.2 472.3h0M109.7 468.7h0M123.0 467.9h0M123.1 474.2h0M128.0 480.4h0M122.5 478.6h0M114.8 469.2h0M109.1 452.0h0M119.5 476.1h0M111.8 478.9h0M102.0 478.7h0M95.3 466.1h0M87.1 476.7h0M98.5 467.7h0M111.2 480.1h0M108.4 455.2h0M89.8 476.6h0M79.2 479.7h0M111.6 462.5h0M84.8 474.7h0M121.9 480.8h0M106.7 476.9h0M110.4 473.7h0M105.9 480.6h0M90.6 477.8h0M115.4 480.4h0M87.2 480.7h0M124.7 479.2h0M110.3 468.4h0M108.2 465.6h0M121.1 467.8h0M107.0 467.2h0M102.2 456.7h0M107.7 480.2h0M100.7 477.4h0M96.5 477.0h0M98.7 479.6h0M102.7 458.5h0M112.8 480.5h0M119.8 458.9h0M93.5 479.6h0M105.9 464.0h0M117.1 480.8h0M125.7 476.5h0M93.4 462.0h0M97.9 468.1h0M95.0 480.3h0M98.6 464.7h0M72.0 480.8h0M92.1 460.4h0M123.3 469.5h0M118.2 458.8h0M92.2 465.9h0M123.7 469.0h0M128.2 480.8h0M96.5 476.1h0M118.0 462.6h0M107.8 480.2h0M110.0 478.0h0M108.3 473.8h0M112.1 480.6h0M122.6 467.3h0M126.7 477.4h0M98.0 471.0h0M115.6 477.4h0M96.9 469.1h0M124.3 479.9h0M93.2 480.6h0M76.2 478.0h0M109.6 475.2h0M118.6 480.7h0M94.4 465.5h0M123.5 476.7h0M127.4 479.3h0M91.3 466.5h0M124.8 479.8h0M105.0 471.7h0M116.8 460.9h0M111.5 463.6h0M102.3 460.9h0M93.8 468.4h0M85.5 467.7h0M89.6 475.2h0M111.9 467.7h0M97.3 473.1h0M93.9 463.5h0M92.3 471.0h0M119.6 466.9h0M113.2 478.6h0M86.4 478.1h0M98.4 479.2h0M86.3 469.8h0M102.3 471.9h0M121.2 471.0h0M94.1 468.7h0M105.3 468.3h0M76.2 479.7h0M127.7 479.3h0M91.6 480.0h0M118.7 470.6h0M105.4 461.0h0M86.4 469.2h0M126.0 480.5h0M120.2 477.1h0M111.9 472.4h0M124.1 472.6h0M86.4 479.9h0M93.3 469.4h0M109.9 468.9h0M120.2 463.6h0M95.8 479.8h0M118.9 467.8h0M97.6 477.6h0M118.4 454.7h0M123.2 471.7h0M105.6 469.1h0M101.4 473.9h0M121.5 466.1h0M82.0 472.0h0M88.1 474.2h0M127.9 480.4h0M128.0 480.2h0M108.4 454.7h0M98.9 468.1h0M89.9 471.6h0M120.0 460.0h0M116.4 471.4h0M128.3 480.9h0M91.0 472.0h0M108.0 469.6h0M107.8 470.8h0M100.2 480.8h0M81.1 479.7h0M122.5 479.9h0M89.9 466.5h0M128.2 480.6h0M74.1 479.8h0M118.2 452.8h0M103.0 466.1h0M76.2 477.1h0M87.1 477.9h0M113.0 477.0h0M113.6 455.1h0M127.0 480.7h0M120.5 472.9h0M114.3 480.4h0M105.2 456.8h0M83.1 480.1h0M105.1 476.0h0M83.1 470.1h0M112.8 452.8h0M103.1 461.2h0M83.8 476.2h0M92.9 468.6h0M83.0 474.1h0M96.0 480.6h0M73.2 480.3h0M109.5 471.1h0M111.9 479.9h0M95.7 462.8h0M125.7 477.2h0M103.0 470.4h0M110.4 456.2h0M97.4 461.2h0M110.1 466.9h0M117.4 475.9h0M122.3 474.7h0M111.5 462.1h0M107.3 471.1h0M108.2 459.3h0M113.9 480.7h0M116.4 477.1h0M76.6 476.5h0M108.4 462.7h0M126.1 479.9h0M126.3 480.2h0M115.2 466.2h0M92.6 474.1h0M101.7 458.0h0M76.2 477.1h0M106.3 465.1h0M85.7 479.1h0M114.0 480.8h0M111.7 468.9h0M110.1 472.9h0M103.2 469.3h0M104.9 468.0h0M87.6 477.4h0M114.2 450.4h0M86.9 478.6h0M100.8 456.5h0M127.2 480.8h0M120.1 480.8h0M102.3 480.7h0M83.3 475.7h0M86.2 479.0h0M122.0 472.2h0M97.5 473.3h0M72.9 480.4h0M114.9 477.8h0M123.1 469.2h0M121.5 464.7h0M80.5 479.3h0M109.5 477.3h0M114.1 452.0h0M117.8 475.3h0M86.0 478.5h0M83.0 477.0h0M121.3 469.8h0M120.8 473.6h0M121.5 470.3h0M78.4 476.2h0M121.9 463.5h0M124.5 477.8h0M97.7 473.5h0M98.6 479.2h0M121.2 479.1h0M97.8 479.1h0M89.5 472.6h0M122.0 465.5h0M110.6 477.7h0M113.0 473.2h0M126.3 475.8h0M120.4 468.0h0M109.6 479.1h0M125.5 479.3h0M106.6 477.2h0M90.4 476.0h0M111.4 479.5h0M122.2 478.3h0M122.8 466.3h0M102.6 457.6h0M104.8 469.2h0M92.1 480.2h0M79.5 480.2h0M92.5 475.4h0M106.4 456.7h0M83.1 475.5h0M119.3 453.8h0M99.1 480.3h0M92.7 479.4h0M113.8 450.1h0M106.1 467.0h0M99.1 480.1h0M120.5 478.4h0M90.5 465.7h0M86.2 475.2h0M125.6 476.4h0M124.3 477.8h0M108.9 466.6h0M106.3 474.4h0M91.8 472.2h0M104.0 472.7h0M126.8 477.8h0M104.1 455.4h0M116.8 468.8h0M103.7 478.3h0M105.2 462.1h0M118.3 463.2h0M109.4 479.7h0M114.8 478.2h0M125.8 473.6h0M121.4 469.0h0M128.0 480.7h0M127.9 480.7h0M123.4 477.8h0M103.3 471.0h0M103.1 466.2h0M125.9 475.5h0M87.9 480.8h0M127.3 480.0h0M108.9 465.1h0M97.0 472.3h0M120.1 478.1h0M127.0 479.7h0M123.5 479.4h0M105.7 460.2h0M103.4 480.1h0M124.3 471.2h0M77.7 478.8h0M124.5 476.2h0M113.8 478.4h0M106.5 458.7h0M121.5 479.8h0M75.0 480.1h0M90.1 480.7h0M99.5 463.2h0M97.1 470.0h0M102.2 459.3h0M125.7 476.5h0M112.8 465.6h0M98.1 473.5h0M102.2 476.7h0M123.1 477.3h0M125.2 478.4h0M105.6 472.1h0M116.4 475.0h0M84.7 472.8h0M109.8 472.4h0M122.9 472.4h0M116.0 476.8h0M88.6 467.8h0M113.3 459.8h0M102.6 463.5h0M126.9 480.3h0M79.3 479.2h0M116.8 474.3h0M81.8 477.0h0M103.9 473.6h0M91.7 473.3h0M112.6 453.8h0M117.9 479.3h0M94.6 465.8h0M128.1 480.5h0M109.6 472.9h0M95.2 470.2h0M83.6 479.1h0M97.8 469.0h0M118.2 471.4h0M116.3 455.7h0M111.2 454.2h0M115.9 480.3h0M97.6 470.2h0M105.0 458.0h0M96.6 480.7h0M79.3 478.2h0M73.5 479.8h0M127.3 479.7h0M106.0 468.2h0M110.0 464.2h0M102.7 456.0h0M101.5 462.7h0M96.7 468.6h0M120.8 479.8h0M123.4 477.8h0M106.5 467.4h0M94.1 469.4h0M96.7 456.2h0M98.9 476.4h0M97.7 478.2h0M100.8 462.1h0M109.6 462.7h0M105.7 465.2h0M89.3 479.4h0M126.9 477.5h0M116.5 474.7h0M128.3 480.9h0M113.2 467.3h0M102.3 466.1h0M126.2 477.9h0M106.1 463.2h0M124.3 474.6h0M101.9 464.3h0M82.6 480.2h0M81.1 473.3h0M110.9 475.7h0M118.5 457.6h0M92.0 462.5h0M127.9 480.6h0M125.1 472.9h0M90.2 477.8h0M111.0 468.2h0M122.7 480.8h0M111.6 454.4h0M117.0 472.4h0M108.4 462.3h0M96.6 479.7h0M108.3 455.1h0M96.4 473.1h0M114.6 452.3h0M80.0 479.3h0M106.8 477.4h0M116.1 454.0h0M123.3 475.6h0M114.3 457.9h0M126.7 477.1h0M85.1 470.7h0M95.2 466.8h0M122.8 472.3h0M91.6 480.2h0M107.0 456.9h0M121.4 470.3h0M127.7 479.8h0M118.9 475.2h0M121.3 479.2h0M85.6 478.5h0M83.4 475.6h0M123.6 473.2h0M83.9 479.3h0M116.6 474.4h0M100.8 471.7h0M76.7 480.2h0M101.5 468.3h0M97.8 478.1h0M85.7 473.5h0M123.2 477.1h0M88.2 480.8h0M116.0 480.4h0M89.2 465.9h0M82.9 471.1h0M107.1 463.7h0M125.5 480.2h0M72.9 480.2h0M83.0 478.8h0M121.3 471.7h0M87.7 474.7h0M83.7 480.6h0M89.9 475.4h0M121.6 470.8h0M118.9 480.1h0M110.9 471.7h0M94.0 480.5h0M126.0 480.8h0M104.1 469.0h0M102.1 479.8h0M99.1 460.1h0M122.1 466.9h0M119.3 467.5h0M98.8 461.0h0M103.9 454.8h0M126.7 476.8h0M98.8 474.1h0M118.1 457.3h0M103.9 465.9h0M105.8 479.9h0M95.7 480.2h0M115.0 464.4h0M115.1 470.2h0M110.2 466.0h0M115.3 478.8h0M112.4 469.1h0M86.4 480.7h0M109.4 460.8h0M107.9 470.6h0M117.6 463.5h0M119.0 467.8h0M124.6 480.7h0M102.3 464.2h0M112.2 468.4h0M85.1 479.5h0M107.0 457.6h0M110.0 470.9h0M119.3 463.4h0M95.2 476.7h0M114.3 470.9h0M119.1 469.6h0M100.4 454.2h0M114.2 473.4h0M111.9 467.1h0M88.2 473.3h0M122.0 478.2h0M117.2 480.7h0M118.3 478.5h0M93.7 479.9h0M103.0 460.5h0M75.3 479.7h0M113.8 465.5h0M121.3 474.8h0M96.9 472.9h0M112.0 470.8h0M87.0 480.5h0M126.3 480.6h0M119.4 452.3h0M125.4 465.3h0M123.4 455.6h0M99.6 454.1h0M97.0 452.0h0M120.5 440.8h0M115.8 444.3h0M98.5 454.9h0M112.6 444.6h0M123.9 464.1h0M107.9 440.7h0M120.7 449.5h0M96.8 445.9h0M116.4 440.0h0M97.2 448.4h0M120.4 456.6h0M123.6 460.2h0M115.0 446.4h0M117.5 444.0h0M118.5 445.9h0M112.8 423.7h0M115.9 430.3h0M95.2 455.6h0M123.6 458.9h0M100.4 447.4h0M125.8 469.9h0M113.1 440.6h0M87.2 462.9h0M72.5 472.7h0M116.9 429.5h0M98.3 454.8h0M77.4 468.1h0M118.0 438.3h0M123.3 459.1h0M118.3 445.7h0M121.4 458.4h0M118.7 447.1h0M117.0 447.2h0M120.3 444.8h0M74.8 472.2h0M77.6 461.0h0M125.4 467.7h0M115.9 434.8h0M125.0 462.0h0M109.9 447.3h0M114.8 432.1h0M79.9 466.4h0M92.2 452.0h0M96.1 455.5h0M101.1 451.9h0M119.2 450.0h0M121.1 448.7h0M87.6 460.6h0M118.4 440.6h0M81.1 459.1h0M104.0 450.6h0M124.1 461.6h0M72.9 460.7h0M117.0 448.0h0M123.2 457.3h0M110.8 438.7h0M124.6 466.8h0M116.8 443.8h0M111.0 440.6h0M87.6 464.0h0M117.4 448.7h0M98.6 452.6h0M125.6 462.9h0M115.6 436.8h0M95.9 456.0h0M119.5 435.0h0M99.8 443.5h0M123.9 460.0h0M84.1 462.7h0M116.4 442.7h0M89.1 460.0h0M90.1 459.3h0M123.8 462.4h0M86.9 454.0h0M90.8 457.7h0M110.0 438.1h0M99.9 439.0h0M126.8 471.1h0M89.2 462.0h0M106.8 450.4h0M92.0 451.3h0M101.3 453.2h0M97.0 444.3h0M114.1 443.3h0M88.3 463.4h0M88.2 480.3h0M89.9 478.1h0M75.4 464.6h0M87.1 460.8h0M77.7 464.2h0M72.8 477.5h0M83.7 461.6h0M71.8 470.2h0M88.1 477.7h0M82.7 477.1h0M69.3 474.0h0M60.9 472.4h0M70.8 469.3h0M70.2 464.0h0M62.9 474.8h0M87.0 469.7h0M64.8 467.0h0M62.7 475.5h0M56.0 473.8h0M81.4 476.8h0M77.1 473.1h0M68.9 471.1h0M89.6 470.1h0M78.5 474.1h0M80.9 468.8h0M87.6 469.9h0M74.7 477.7h0M77.1 475.8h0M62.8 477.6h0M55.6 479.5h0M67.7 475.2h0M83.0 473.1h0M83.7 476.6h0M68.6 468.5h0M78.2 476.1h0M88.2 479.7h0M79.4 475.5h0M74.2 471.5h0M89.8 469.5h0M67.8 480.3h0M62.7 469.3h0M71.0 477.2h0M89.9 477.0h0M85.7 466.8h0M86.3 465.6h0M88.5 465.6h0M78.6 471.7h0M86.0 469.9h0M86.8 471.3h0M58.9 472.5h0M78.2 472.0h0M76.1 475.7h0M87.4 479.3h0M82.8 464.3h0M60.9 470.0h0M84.2 476.9h0M85.2 467.3h0M50.8 479.4h0M56.3 473.1h0M65.4 467.4h0M56.1 477.0h0M54.5 480.5h0M78.2 477.0h0M76.4 479.1h0M65.7 478.8h0M88.4 468.6h0M66.8 473.0h0M55.6 480.4h0M56.4 473.7h0M59.3 477.8h0M73.6 468.2h0M78.4 473.6h0M71.0 480.3h0M66.3 470.8h0M59.6 478.6h0M59.3 474.6h0M68.6 471.5h0M88.5 472.0h0M70.5 480.0h0M66.7 478.3h0M96.9 349.1h0M60.0 370.2h0M57.7 382.5h0M80.3 388.9h0M86.5 387.2h0M106.0 388.3h0M70.2 399.6h0M87.6 399.6h0M93.2 400.3h0M76.0 406.1h0M41.6 417.2h0M52.0 419.7h0M75.0 417.2h0M88.0 421.8h0M89.2 422.3h0M50.0 430.6h0M67.1 430.6h0M83.0 430.4h0M85.2 434.8h0M89.2 434.8h0M67.8 437.7h0M46.0 442.9h0M46.6 447.3h0M81.3 451.1h0M89.0 449.1h0M54.1 459.2h0M59.2 458.6h0M61.6 459.2h0M65.6 459.2h0M74.7 458.4h0M93.4 400.7h0M102.9 411.6h0M94.8 413.9h0M99.0 414.1h0M100.3 413.7h0M95.0 416.7h0M97.1 417.6h0M99.9 417.2h0M113.8 414.4h0M88.9 422.1h0M89.9 422.6h0M113.5 422.9h0M115.6 430.6h0M103.6 431.6h0M106.6 431.8h0M89.7 435.0h0M101.5 436.2h0M97.1 437.9h0M103.8 438.1h0M92.2 440.6h0M97.7 440.1h0M102.9 441.6h0M106.1 439.9h0M107.5 441.1h0M114.9 440.9h0M99.6 443.2h0M105.6 445.7h0M115.9 446.1h0M114.9 446.9h0M98.2 447.5h0M101.5 447.5h0M54.4 464.1h0M59.6 463.8h0M60.4 465.8h0M64.2 461.5h0M73.9 462.0h0M63.1 469.6h0M66.0 470.4h0M70.4 465.3h0M70.6 469.0h0M75.8 466.7h0M53.8 473.7h0M81.1 465.0h0M84.0 463.2h0M41.6 481.2h0M61.1 481.2h0M64.2 478.3h0M67.0 478.5h0" stroke="#00ff00" stroke-width="2.70" stroke-linecap="round" fill="none"/>
<path d="M145.8 470.1h0M160.8 480.1h0M136.5 480.4h0M145.6 466.7h0M170.3 476.4h0M142.2 461.9h0M157.5 465.5h0M138.6 475.8h0M148.4 448.4h0M155.4 456.9h0M152.2 468.1h0M140.0 478.5h0M175.6 479.7h0M148.3 468.5h0M150.4 461.7h0M173.1 476.5h0M163.5 467.5h0M159.3 477.4h0M170.1 479.1h0M138.6 471.6h0M139.6 476.3h0M142.2 464.4h0M171.8 477.4h0M137.8 479.1h0M148.7 459.9h0M137.3 479.3h0M161.0 480.4h0M171.6 474.9h0M172.8 478.8h0M157.3 467.5h0M158.9 460.0h0M156.8 463.5h0M145.7 446.4h0M157.4 480.7h0M153.0 480.5h0M161.2 480.1h0M161.7 469.2h0M150.5 455.5h0M136.9 478.8h0M175.5 480.0h0M160.3 474.7h0M148.8 460.0h0M148.3 452.5h0M137.1 478.1h0M148.7 451.0h0M145.8 467.7h0M164.6 477.1h0M149.7 466.8h0M171.1 479.0h0M162.7 474.2h0M145.2 465.2h0M143.8 457.8h0M143.5 459.7h0M162.3 475.9h0M141.3 466.2h0M147.1 467.5h0M153.2 452.1h0M142.4 459.1h0M153.8 452.8h0M145.1 454.1h0M163.2 477.1h0M150.0 479.3h0M160.1 464.8h0M137.8 476.6h0M172.9 480.8h0M166.6 478.0h0M163.2 475.1h0M174.5 479.9h0M146.4 465.3h0M168.1 479.4h0M157.9 477.9h0M169.0 480.8h0M161.8 480.3h0M147.1 463.1h0M153.3 457.6h0M136.1 480.8h0M141.1 462.8h0M171.0 477.8h0M149.0 469.7h0M162.5 475.7h0M143.8 478.5h0M158.8 473.7h0M139.3 477.2h0M160.8 474.6h0M168.8 477.4h0M151.3 457.9h0M153.2 468.3h0M146.0 457.2h0M138.9 477.0h0M151.3 454.5h0M146.7 477.7h0M169.3 473.4h0M168.5 474.2h0M159.1 469.1h0M136.2 480.4h0M137.8 480.4h0M172.1 480.7h0M170.5 474.8h0M163.6 466.0h0M159.7 480.4h0M167.5 473.5h0M140.4 466.2h0M138.5 476.3h0M170.0 479.8h0M146.2 454.3h0M152.1 469.7h0M150.4 478.9h0M152.9 477.2h0M164.3 471.6h0M157.2 466.1h0M172.8 480.5h0M157.2 464.0h0M143.6 476.8h0M160.0 477.2h0M148.1 467.5h0M171.0 479.4h0M144.9 467.4h0M151.7 470.7h0M149.2 477.1h0M176.6 480.6h0M155.2 458.5h0M158.8 465.6h0M171.1 476.2h0M175.4 480.4h0M145.6 459.0h0M145.9 473.7h0M143.7 457.6h0M172.9 476.7h0M148.9 454.3h0M139.5 470.6h0M148.0 460.8h0M163.7 476.6h0M153.9 476.1h0M152.0 478.2h0M147.3 478.0h0M140.0 476.4h0M167.7 478.3h0M163.7 468.8h0M146.9 444.6h0M163.6 479.6h0M156.2 463.0h0M163.8 478.8h0M162.5 478.6h0M172.5 480.4h0M174.2 479.8h0M165.5 474.3h0M162.5 476.5h0M143.2 463.2h0M166.9 472.8h0M150.7 469.4h0M171.8 478.1h0M146.1 470.2h0M149.6 462.7h0M167.6 472.1h0M140.6 479.8h0M140.6 469.4h0M143.6 471.2h0M166.5 472.3h0M160.3 474.0h0M143.9 466.2h0M144.3 458.5h0M137.2 477.0h0M174.9 479.4h0M159.9 460.4h0M164.2 468.3h0M155.8 462.3h0M136.1 480.7h0M156.2 470.3h0M143.9 480.2h0M156.5 471.0h0M172.6 476.8h0M161.6 475.3h0M145.6 464.3h0M174.1 477.7h0M164.5 468.7h0M160.6 467.5h0M166.3 471.4h0M153.9 468.0h0M140.5 480.0h0M144.2 467.9h0M164.7 475.7h0M162.6 474.0h0M167.0 479.3h0M172.9 479.3h0M151.2 461.9h0M145.2 475.7h0M168.1 476.8h0M144.0 477.3h0M152.6 480.4h0M140.5 473.9h0M138.4 477.5h0M152.7 479.9h0M152.5 480.4h0M175.6 480.7h0M155.5 465.1h0M150.2 479.7h0M165.8 471.2h0M155.1 474.1h0M146.2 451.7h0M161.8 479.7h0M160.3 480.5h0M139.7 480.5h0M138.2 473.8h0M144.2 468.5h0M174.5 480.0h0M139.6 470.1h0M140.7 476.2h0M143.2 462.9h0M170.3 473.9h0M150.9 474.7h0M168.0 478.7h0M143.0 467.0h0M165.1 475.0h0M142.3 480.6h0M155.1 463.1h0M140.0 469.1h0M162.3 465.9h0M154.4 460.5h0M149.7 479.2h0M152.4 478.6h0M159.3 479.7h0M162.6 480.3h0M142.3 468.8h0M136.5 479.3h0M145.0 469.3h0M168.0 473.2h0M157.9 477.8h0M139.2 479.9h0M137.0 480.3h0M172.6 478.7h0M145.1 462.3h0M162.3 465.9h0M150.2 466.8h0M140.5 472.0h0M169.4 476.7h0M155.0 479.5h0M150.2 479.2h0M158.7 472.7h0M162.6 478.1h0M150.4 471.0h0M153.7 475.8h0M142.8 464.0h0M158.0 458.4h0M155.9 471.6h0M148.0 475.7h0M139.9 477.5h0M157.3 480.3h0M166.6 476.4h0M150.1 454.8h0M147.8 471.8h0M152.9 477.4h0M167.3 470.0h0M151.3 472.1h0M155.0 467.1h0M150.7 472.8h0M155.0 458.7h0M148.2 451.1h0M136.4 480.2h0M158.0 480.1h0M144.4 468.7h0M176.2 479.8h0M137.4 480.8h0M153.7 479.9h0M158.4 475.1h0M146.1 467.9h0M146.7 467.0h0M161.7 464.3h0M169.2 480.0h0M167.1 475.8h0M170.1 479.1h0M142.9 466.0h0M155.2 454.9h0M169.4 477.8h0M157.3 477.6h0M158.4 474.2h0M154.7 469.5h0M175.3 480.2h0M157.4 460.4h0M161.1 470.9h0M158.5 475.8h0M140.2 476.2h0M157.1 456.9h0M162.4 465.0h0M143.4 459.3h0M149.0 444.3h0M174.7 479.8h0M147.6 473.5h0M176.2 480.6h0M144.2 467.0h0M166.5 473.9h0M169.5 479.0h0M175.4 480.4h0M155.8 467.7h0M137.9 474.3h0M141.9 478.1h0M176.7 480.7h0M141.8 465.6h0M143.2 460.1h0M171.9 475.1h0M157.9 479.2h0M152.0 473.4h0M141.4 479.2h0M150.4 479.1h0M143.9 452.4h0M176.2 480.5h0M175.0 479.0h0M148.8 470.0h0M166.7 474.8h0M155.0 470.1h0M157.9 477.3h0M160.4 464.1h0M143.4 459.1h0M142.9 477.1h0M138.2 478.1h0M171.8 480.8h0M171.7 474.7h0M164.1 469.9h0M139.8 475.7h0M142.0 475.2h0M156.8 474.3h0M150.7 445.7h0M170.2 473.5h0M147.1 464.2h0M166.0 473.4h0M147.6 466.0h0M155.6 457.4h0M176.4 480.6h0M161.3 474.0h0M170.7 480.6h0M171.0 474.2h0M151.0 463.6h0M172.2 476.1h0M165.2 477.6h0M156.7 472.9h0M162.7 471.9h0M142.0 474.2h0M161.2 479.9h0M149.1 480.2h0M158.1 469.6h0M166.2 470.8h0M173.4 478.0h0M140.9 475.2h0M155.5 474.6h0M143.8 465.5h0M139.5 477.2h0M136.3 480.7h0M147.2 463.7h0M153.7 462.1h0M153.9 451.1h0M164.3 475.3h0M138.7 476.8h0M153.3 455.7h0M149.6 461.0h0M172.3 479.0h0M139.6 480.6h0M174.3 479.0h0M139.5 475.7h0M171.2 479.3h0M176.3 480.4h0M144.3 454.3h0M141.4 469.7h0M150.5 448.5h0M171.2 479.8h0M138.5 478.6h0M144.0 476.2h0M140.9 474.9h0M144.7 480.2h0M156.4 459.3h0M170.2 478.2h0M152.0 474.4h0M146.8 470.4h0M140.6 474.6h0M159.2 466.4h0M144.8 463.1h0M143.2 472.2h0M158.1 467.3h0M154.1 458.3h0M171.2 477.4h0M147.0 456.6h0M145.1 448.3h0M150.2 465.4h0M143.3 473.5h0M166.0 479.9h0M157.7 470.8h0M158.1 471.8h0M156.2 459.8h0M144.3 459.0h0M158.7 460.9h0M172.3 475.3h0M170.3 479.1h0M136.4 479.8h0M150.4 462.3h0M146.2 462.1h0M151.8 464.0h0M149.1 476.1h0M152.2 469.4h0M159.6 480.1h0M155.8 468.8h0M142.9 469.0h0M157.1 479.8h0M147.3 445.3h0M140.8 473.6h0M153.8 451.5h0M143.6 468.4h0M144.2 451.7h0M168.4 472.2h0M140.0 470.4h0M145.2 448.3h0M149.4 476.4h0M163.4 473.6h0M151.3 456.2h0M156.7 471.5h0M169.0 476.4h0M160.0 480.3h0M143.0 476.9h0M167.1 470.1h0M170.8 478.6h0M137.8 476.3h0M173.8 480.4h0M176.2 480.4h0M166.3 474.9h0M163.4 479.0h0M141.6 463.2h0M141.7 479.8h0M168.2 476.9h0M176.8 480.8h0M164.7 477.7h0M164.6 480.6h0M157.2 456.7h0M140.2 476.0h0M169.0 475.3h0M149.4 466.1h0M168.8 479.2h0M153.1 472.8h0M159.5 469.2h0M147.9 480.3h0M149.9 461.8h0M146.9 460.2h0M163.2 473.3h0M153.5 479.7h0M168.6 480.2h0M174.0 478.6h0M154.0 450.5h0M142.9 455.8h0M141.0 473.3h0M146.2 468.0h0M136.5 480.8h0M165.0 468.6h0M138.0 479.1h0M155.4 474.1h0M141.4 479.7h0M175.5 478.9h0M143.9 460.8h0M157.8 470.1h0M161.9 469.5h0M136.3 480.3h0M174.0 478.3h0M159.0 471.9h0M160.7 476.0h0M166.3 475.8h0M146.5 458.2h0M155.5 473.3h0M138.4 476.3h0M161.1 478.3h0M140.0 474.4h0M146.5 461.7h0M149.9 480.0h0M166.0 477.1h0M165.7 478.7h0M145.4 462.2h0M162.3 479.6h0M167.4 477.4h0M156.6 477.0h0M152.2 458.4h0M173.5 477.1h0M168.8 471.8h0M141.7 462.7h0M141.0 463.8h0M148.0 446.7h0M153.8 476.0h0M170.0 478.9h0M154.2 475.0h0M136.7 480.2h0M151.8 473.3h0M139.5 478.5h0M145.1 475.2h0M172.9 479.6h0M144.8 464.8h0M152.3 473.0h0M166.9 480.3h0M146.3 476.8h0M173.5 480.5h0M153.5 453.2h0M146.9 445.3h0M144.2 473.5h0M163.3 466.5h0M152.3 460.8h0M160.3 479.1h0M159.6 462.6h0M150.1 471.1h0M140.7 472.7h0M152.7 473.4h0M155.9 470.8h0M167.5 479.9h0M143.0 470.3h0M151.7 452.7h0M151.4 470.4h0M136.4 480.2h0M156.3 470.1h0M165.3 467.7h0M140.7 478.7h0M168.6 480.4h0M158.2 461.5h0M138.2 480.3h0M167.0 472.8h0M163.8 473.2h0M139.3 480.1h0M139.5 478.0h0M163.2 478.3h0M165.3 474.8h0M174.4 478.6h0M166.5 472.1h0M164.6 478.8h0M144.9 478.1h0M170.7 477.6h0M163.4 469.9h0M168.8 478.8h0M145.6 450.1h0M154.0 466.9h0M164.6 476.9h0M167.4 478.3h0M139.0 473.4h0M160.4 461.5h0M153.7 478.8h0M150.4 469.9h0M174.8 479.6h0M163.1 471.5h0M156.3 469.6h0M170.1 475.0h0M148.2 479.1h0M155.9 462.9h0M144.3 478.1h0M159.0 480.8h0M143.3 455.7h0M154.7 474.2h0M163.0 470.6h0M136.1 480.8h0M137.8 479.2h0M148.0 460.6h0M156.4 468.8h0M150.1 462.6h0M150.9 470.8h0M136.3 480.7h0M139.9 473.5h0M145.8 460.2h0M138.5 479.2h0M176.9 480.8h0M146.2 451.6h0M159.8 473.1h0M164.8 468.0h0M164.6 466.9h0M146.9 477.7h0M143.4 479.2h0M166.5 470.5h0M167.1 471.6h0M137.7 478.9h0M153.6 454.2h0M164.5 474.4h0M166.7 477.2h0M150.6 474.6h0M172.2 477.5h0M155.9 467.1h0M155.4 456.8h0M160.0 462.9h0M142.8 461.0h0M176.6 480.7h0M144.5 476.1h0M167.0 471.8h0M150.6 448.8h0M163.2 472.6h0M153.9 467.0h0M147.7 447.7h0M167.1 479.2h0M166.0 473.2h0M144.8 466.2h0M151.3 467.4h0M162.6 464.0h0M140.6 465.4h0M162.9 467.0h0M137.3 478.2h0M160.0 469.1h0M141.1 477.1h0M174.2 479.3h0M167.0 475.5h0M142.6 463.4h0M167.2 472.0h0M136.5 480.1h0M138.4 473.3h0M161.6 466.3h0M150.6 468.7h0M139.2 480.3h0M146.4 478.0h0M158.3 468.4h0M150.3 451.7h0M159.8 475.4h0M152.7 449.3h0M136.1 480.8h0M168.5 479.7h0M167.4 470.2h0M154.7 457.9h0M144.5 470.1h0M145.1 459.1h0M159.0 462.9h0M144.1 479.2h0M150.4 464.9h0M142.3 467.3h0M147.4 479.5h0M171.6 475.9h0M150.5 476.4h0M161.7 479.5h0M171.1 477.5h0M171.9 477.9h0M153.5 479.1h0M146.2 477.8h0M175.8 479.7h0M172.6 476.3h0M175.3 480.6h0M168.7 475.7h0M140.7 474.8h0M166.5 469.9h0M137.2 480.0h0M169.6 472.9h0M155.3 474.4h0M170.1 474.2h0M160.3 461.8h0M149.0 473.1h0M137.1 478.2h0M176.5 480.4h0M169.7 478.2h0M146.3 462.6h0M144.4 473.1h0M159.7 468.7h0M142.4 466.0h0M144.7 450.4h0M152.0 461.9h0M174.7 478.6h0M164.0 473.9h0M159.8 468.0h0M173.3 477.3h0M141.9 468.6h0M174.5 480.4h0M176.0 479.9h0M160.3 473.2h0M157.9 475.1h0M165.2 471.3h0M172.1 475.3h0M161.0 473.1h0M140.0 469.2h0M165.2 479.3h0M140.4 473.9h0M165.1 471.3h0M160.0 465.1h0M139.0 479.3h0M137.7 478.0h0M161.1 463.2h0M168.2 480.8h0M175.4 480.7h0M143.3 477.5h0M151.3 470.8h0M168.5 475.3h0M148.7 457.8h0M160.1 466.1h0M144.4 451.2h0M137.5 475.7h0M139.4 474.4h0M138.9 480.8h0M170.8 474.5h0M172.8 479.1h0M142.3 479.4h0M139.0 471.7h0M146.1 440.4h0M158.6 440.3h0M150.0 431.7h0M146.0 433.7h0M149.0 431.7h0M151.3 445.2h0M171.8 472.3h0M143.2 442.1h0M141.4 455.5h0M157.3 453.0h0M143.9 438.7h0M159.1 444.1h0M144.3 444.9h0M170.1 472.4h0M176.1 477.2h0M176.5 471.8h0M139.1 466.5h0M136.4 463.4h0M138.0 459.9h0M149.6 434.0h0M165.0 460.0h0M159.7 454.6h0M148.5 427.6h0M151.0 422.9h0M156.9 452.9h0M142.1 447.9h0M147.2 440.5h0M172.8 472.3h0M141.3 457.2h0M151.0 443.8h0M148.7 428.4h0M139.3 457.3h0M159.5 423.9h0M140.4 464.6h0M154.0 448.5h0M147.7 442.0h0M136.7 477.8h0M157.6 450.9h0M170.9 472.0h0M161.6 461.8h0M145.8 440.9h0M147.2 440.9h0M173.1 474.6h0M139.2 467.8h0M172.2 471.7h0M167.4 467.5h0M156.7 452.5h0M144.7 440.9h0M160.7 457.2h0M161.2 461.5h0M170.6 471.1h0M175.3 475.9h0M137.0 473.8h0M151.4 440.8h0M146.4 438.5h0M148.0 438.8h0M139.5 468.0h0M153.6 432.9h0M162.7 462.2h0M144.3 444.5h0M136.9 474.3h0M163.1 461.3h0M160.7 457.4h0M162.0 458.5h0M156.6 453.2h0M169.8 471.5h0M147.7 439.5h0M150.4 442.9h0M156.7 454.5h0M160.2 437.2h0M173.3 475.2h0M192.2 480.2h0M169.7 474.7h0M169.2 479.2h0M174.4 474.2h0M184.5 479.3h0M169.7 474.1h0M190.4 477.8h0M183.1 478.7h0M178.8 480.0h0M169.3 477.4h0M170.7 476.3h0M173.1 475.8h0M177.7 477.2h0M172.5 479.2h0M176.7 475.9h0M195.5 480.3h0M194.9 480.7h0M185.4 478.7h0M190.7 477.9h0M177.0 479.8h0M188.1 478.1h0M183.6 478.7h0M188.3 479.5h0M170.3 479.8h0M172.2 475.4h0M182.8 480.6h0M179.1 480.2h0M165.1 480.8h0M174.6 476.1h0M167.5 479.2h0M191.7 479.9h0M181.5 476.6h0M174.5 476.8h0M173.3 473.9h0M173.3 477.9h0M172.8 479.1h0M176.2 477.8h0M167.8 477.9h0M165.1 480.8h0M180.4 478.6h0M174.3 479.7h0M192.6 478.9h0M172.0 477.5h0M166.1 480.2h0M171.2 379.0h0M151.3 409.2h0M170.2 409.2h0M151.6 410.2h0M156.9 411.8h0M157.9 411.6h0M170.5 410.3h0M151.1 413.8h0M149.7 415.7h0M175.8 414.5h0M175.0 415.5h0M180.0 417.9h0M185.5 419.1h0M149.9 419.3h0M153.5 422.9h0M148.5 424.9h0M169.8 426.6h0M150.0 428.0h0M154.3 431.6h0M160.5 432.2h0M164.7 431.7h0M166.1 431.6h0M150.6 433.8h0M151.1 435.8h0M157.2 436.0h0M161.5 435.8h0M159.3 437.7h0M153.1 437.9h0M171.9 438.7h0M150.2 441.1h0M147.0 442.7h0M153.1 442.1h0M155.0 442.6h0M160.3 442.1h0M151.6 444.0h0M163.2 444.8h0M170.5 447.4h0M188.8 448.8h0M194.5 413.0h0M221.2 422.9h0M215.2 428.3h0M210.5 434.5h0M164.8 431.5h0M189.3 448.9h0M193.4 448.9h0M204.6 449.5h0M205.5 451.5h0M178.0 452.8h0M181.2 457.7h0M201.3 456.5h0M170.9 464.8h0M193.6 464.2h0M194.6 465.1h0M194.0 468.0h0M197.8 471.0h0M194.2 472.5h0M188.9 470.1h0M189.5 474.3h0M175.9 469.0h0M174.7 471.3h0M173.5 472.5h0M199.6 480.0h0" stroke="#ff0000" stroke-width="2.70" stroke-linecap="round" fill="none"/>
<path d="M128.2 481.2L131.9 486.3L136.3 481.2Z" fill="#fff"/>
<line x1="32.6" y1="481.8" x2="229.5" y2="481.8" stroke="#333" stroke-width="0.75" stroke-dasharray="2.4 2"/>
<line x1="30.2" y1="333.6" x2="32" y2="333.6" stroke="#555" stroke-width="0.5"/>
<text x="29.4" y="335.2" font-size="4.6" text-anchor="end" fill="#4d4d4d" font-family='"Liberation Sans", sans-serif'>34</text>
<line x1="30.2" y1="410.6" x2="32" y2="410.6" stroke="#555" stroke-width="0.5"/>
<text x="29.4" y="412.2" font-size="4.6" text-anchor="end" fill="#4d4d4d" font-family='"Liberation Sans", sans-serif'>17</text>
<line x1="30.2" y1="481.8" x2="32" y2="481.8" stroke="#555" stroke-width="0.5"/>
<text x="29.4" y="483.4" font-size="4.6" text-anchor="end" fill="#4d4d4d" font-family='"Liberation Sans", sans-serif'>1.3</text>
<line x1="30.2" y1="487.7" x2="32" y2="487.7" stroke="#555" stroke-width="0.5"/>
<text x="29.4" y="489.3" font-size="4.6" text-anchor="end" fill="#4d4d4d" font-family='"Liberation Sans", sans-serif'>0</text>
<line x1="53.8" y1="498.2" x2="53.8" y2="500.0" stroke="#555" stroke-width="0.5"/>
<text x="53.8" y="504.8" font-size="4.6" text-anchor="middle" fill="#4d4d4d" font-family='"Liberation Sans", sans-serif'>-10</text>
<line x1="93.1" y1="498.2" x2="93.1" y2="500.0" stroke="#555" stroke-width="0.5"/>
<text x="93.1" y="504.8" font-size="4.6" text-anchor="middle" fill="#4d4d4d" font-family='"Liberation Sans", sans-serif'>-5</text>
<line x1="132.4" y1="498.2" x2="132.4" y2="500.0" stroke="#555" stroke-width="0.5"/>
<text x="132.4" y="504.8" font-size="4.6" text-anchor="middle" fill="#4d4d4d" font-family='"Liberation Sans", sans-serif'>0</text>
<line x1="171.7" y1="498.2" x2="171.7" y2="500.0" stroke="#555" stroke-width="0.5"/>
<text x="171.7" y="504.8" font-size="4.6" text-anchor="middle" fill="#4d4d4d" font-family='"Liberation Sans", sans-serif'>5</text>
<line x1="211" y1="498.2" x2="211" y2="500.0" stroke="#555" stroke-width="0.5"/>
<text x="211" y="504.8" font-size="4.6" text-anchor="middle" fill="#4d4d4d" font-family='"Liberation Sans", sans-serif'>10</text>
<path d="M32 287.8V498.2H230.5" stroke="#777" stroke-width="1.15" fill="none"/>
<text x="129.5" y="305" font-size="12" font-weight="bold" text-anchor="middle" fill="#111" font-family='"Liberation Serif", serif'>FLL vs. UFLL</text>
<text x="131" y="511.4" font-size="5.9" text-anchor="middle" fill="#222" font-family='"Liberation Sans", sans-serif'>log2FoldChange</text>
<text transform="translate(20.0 378.7) rotate(-90)" font-size="5.9" text-anchor="middle" fill="#222" font-family='"Liberation Sans", sans-serif'>-log10(padj)</text>
<text x="239.1" y="370.4" font-size="6" fill="#222" font-family='"Liberation Sans", sans-serif'>type</text>
<rect x="239.1" y="374.2" width="9.3" height="17.6" fill="#f0f0f0"/>
<circle cx="243.7" cy="378.7" r="1.35" fill="#ff0000"/>
<circle cx="243.7" cy="387.6" r="1.35" fill="#00ff00"/>
<text x="251.3" y="380.3" font-size="4.5" fill="#333" font-family='"Liberation Sans", sans-serif'>up: 1534</text>
<text x="251.3" y="389.2" font-size="4.5" fill="#333" font-family='"Liberation Sans", sans-serif'>down: 1266</text>
<path d="M330 481H427.6L424 483.6L412 486.6L392 488.3L376 488.6L350 488.2L339 487.3L333 485L330 482.2Z" fill="#7f7f7f"/>
<path d="M313.2 482.4h0M314.5 483.2h0M318.5 483.0h0M319.0 483.8h0M435.5 482.8h0M437.0 482.2h0M443.0 481.9h0M444.5 482.3h0" stroke="#7f7f7f" stroke-width="1.80" stroke-linecap="round" fill="none"/>
<path d="M336.4 476.8h0M332.5 476.9h0M369.2 472.8h0M335.7 478.1h0M333.3 478.8h0M369.7 472.9h0M363.6 476.5h0M355.2 465.6h0M367.4 473.1h0M357.4 478.4h0M347.8 466.2h0M366.7 477.2h0M368.8 470.6h0M365.9 475.1h0M353.9 478.7h0M339.7 480.1h0M327.2 479.2h0M350.8 476.2h0M373.1 480.4h0M334.8 478.1h0M342.2 477.3h0M351.9 479.4h0M328.0 474.5h0M354.7 476.1h0M333.6 480.1h0M358.6 463.1h0M360.4 480.2h0M362.4 463.5h0M354.9 476.7h0M334.2 479.4h0M341.0 480.1h0M342.5 479.7h0M372.3 480.0h0M327.9 479.5h0M357.6 480.0h0M348.7 464.6h0M330.9 473.1h0M348.0 475.4h0M326.8 479.5h0M367.9 475.0h0M326.5 479.7h0M335.0 470.6h0M331.8 470.7h0M352.2 475.1h0M368.4 471.4h0M360.9 479.5h0M368.4 477.3h0M356.7 470.0h0M364.3 470.4h0M358.1 463.8h0M371.1 474.6h0M371.4 480.2h0M368.3 468.6h0M357.2 478.5h0M355.6 467.9h0M369.7 480.3h0M369.5 471.7h0M362.7 472.0h0M367.4 472.0h0M362.3 472.4h0M326.3 478.7h0M348.6 472.1h0M331.7 472.8h0M350.2 467.3h0M364.9 472.7h0M343.4 477.3h0M336.3 469.0h0M329.6 475.3h0M367.7 475.8h0M366.3 479.8h0M367.5 477.4h0M365.3 467.9h0M333.5 475.8h0M341.3 469.0h0M359.2 476.3h0M351.3 469.5h0M348.3 477.8h0M365.9 468.7h0M372.5 479.4h0M354.4 464.5h0M347.5 477.0h0M366.8 472.4h0M346.3 469.7h0M342.5 479.3h0M329.0 473.6h0M342.9 476.9h0M354.9 474.8h0M370.1 475.2h0M340.7 480.2h0M365.0 467.6h0M371.0 477.2h0M348.9 465.7h0M361.6 479.2h0M356.4 467.8h0M354.8 476.5h0M369.7 475.3h0M368.2 477.6h0M336.1 473.9h0M373.0 480.4h0M344.3 477.6h0M344.8 478.7h0M351.0 471.5h0M355.0 479.8h0M371.9 477.4h0M354.1 479.5h0M337.4 469.5h0M368.0 479.2h0M336.5 469.3h0M357.8 463.0h0M337.6 479.2h0M329.7 478.2h0M330.9 470.4h0M358.8 469.7h0M370.9 476.1h0M352.0 469.2h0M351.6 478.8h0M365.7 479.8h0M337.3 473.1h0M366.5 475.8h0M345.4 468.1h0M332.4 471.5h0M364.7 472.4h0M348.0 478.6h0M364.8 469.5h0M369.4 477.4h0M365.8 472.1h0M330.2 471.8h0M339.7 469.7h0M353.9 470.6h0M356.9 464.4h0M355.1 466.1h0M368.0 469.4h0M356.7 470.8h0M350.4 476.1h0M349.0 472.2h0M337.0 479.9h0M362.7 469.1h0M364.8 480.3h0M365.7 471.4h0M326.7 480.0h0M342.3 471.2h0M364.3 475.3h0M354.2 474.7h0M372.0 477.8h0M339.4 471.3h0M359.0 478.4h0M369.9 473.7h0M344.6 469.0h0M340.5 478.2h0M349.6 477.4h0M333.0 478.8h0M370.0 472.3h0M349.1 476.4h0M333.0 471.2h0M339.3 473.2h0M368.7 471.0h0M333.6 480.2h0M362.0 478.0h0M326.7 479.3h0M372.4 479.8h0M372.7 480.2h0M371.1 476.7h0M372.2 478.1h0M358.9 465.6h0M330.0 479.6h0M348.1 473.3h0M342.5 469.7h0M361.6 478.7h0M335.6 474.6h0M334.4 477.4h0M342.5 467.9h0M334.2 469.1h0M335.2 478.9h0M364.8 464.7h0M349.0 476.9h0M359.7 478.9h0M343.1 476.8h0M346.5 480.1h0M362.8 474.5h0M330.5 475.7h0M368.1 468.1h0M350.4 471.6h0M353.9 468.7h0M326.1 478.3h0M331.7 479.1h0M338.8 477.6h0M355.6 475.7h0M357.6 463.0h0M370.1 478.1h0M350.9 475.8h0M366.6 474.6h0M353.7 478.9h0M359.3 479.9h0M364.5 479.7h0M370.4 476.1h0M351.2 479.9h0M347.9 478.3h0M347.8 470.8h0M371.3 479.2h0M345.1 474.0h0M366.1 479.8h0M345.9 475.5h0M369.0 471.4h0M371.0 479.5h0M369.3 469.7h0M325.5 480.1h0M350.0 479.6h0M355.9 470.3h0M349.6 470.3h0M328.1 479.7h0M340.6 477.9h0M353.3 470.5h0M351.3 476.7h0M342.3 474.6h0M350.9 471.3h0M333.2 473.8h0M351.2 472.3h0M358.0 463.1h0M346.8 477.1h0M340.2 477.5h0M335.1 478.0h0M342.8 477.3h0M366.6 476.7h0M365.2 479.5h0M373.0 480.3h0M366.8 471.7h0M351.8 477.6h0M371.6 479.6h0M346.3 477.3h0M329.6 480.3h0M372.9 480.1h0M351.9 476.1h0M341.8 480.3h0M342.5 473.8h0M348.6 475.0h0M360.2 479.5h0M343.7 480.2h0M338.8 475.9h0M360.6 464.7h0M340.3 469.6h0M344.1 479.6h0M369.4 470.2h0M365.0 474.6h0M359.6 471.4h0M355.0 476.8h0M341.2 469.5h0M355.3 477.5h0M333.9 470.7h0M342.1 476.1h0M365.7 466.7h0M361.8 467.9h0M338.5 477.1h0M337.8 474.6h0M356.8 467.2h0M363.2 464.2h0M360.7 472.7h0M361.4 464.3h0M360.8 477.2h0M355.0 470.1h0M333.5 469.6h0M366.9 480.0h0M364.5 478.8h0M364.4 472.0h0M338.2 480.0h0M346.3 472.0h0M335.8 480.0h0M354.6 480.3h0M335.6 475.8h0M341.8 473.9h0M359.1 475.8h0M355.6 477.3h0M341.3 469.5h0M343.5 478.1h0M348.6 479.8h0M366.0 466.7h0M365.7 467.5h0M358.9 466.2h0M369.2 479.4h0M333.2 470.9h0M350.4 475.8h0M352.3 470.8h0M338.0 476.7h0M352.2 477.0h0M369.7 479.4h0M362.5 463.2h0M358.4 472.0h0M356.4 478.2h0M367.6 479.9h0M339.8 475.8h0M329.5 478.5h0M364.9 478.4h0M364.1 477.2h0M368.9 476.9h0M353.9 473.3h0M367.6 471.7h0M371.5 477.0h0M341.1 478.6h0M360.1 472.3h0M331.2 477.5h0M349.8 474.6h0M358.3 466.5h0M348.4 479.4h0M356.7 464.3h0M369.3 476.2h0M371.5 479.0h0M351.3 471.5h0M332.6 479.1h0M343.5 477.2h0M355.2 478.5h0M347.6 477.1h0M338.1 472.8h0M326.6 479.6h0M362.4 479.1h0M345.2 476.6h0M342.7 476.4h0M331.2 470.2h0M362.0 463.7h0M346.4 469.3h0M332.1 475.8h0M362.2 469.5h0M364.9 470.0h0M338.5 468.5h0M325.1 480.4h0M372.3 480.3h0M331.6 472.4h0M363.1 464.3h0M364.5 470.9h0M337.5 472.6h0M369.7 480.2h0M341.4 476.6h0M327.9 477.7h0M337.8 474.5h0M331.0 473.0h0M350.1 466.4h0M349.8 476.2h0M338.4 476.1h0M350.0 466.9h0M358.7 469.5h0M358.4 475.0h0M350.7 476.3h0M340.7 476.8h0M365.8 478.0h0M354.4 462.8h0M370.4 477.5h0M356.4 471.1h0M344.3 468.2h0M363.1 465.1h0M334.7 475.7h0M332.6 474.5h0M332.2 477.4h0M370.5 477.0h0M347.6 476.4h0M342.5 474.1h0M351.8 474.5h0M354.4 479.1h0M356.6 465.4h0M331.4 478.1h0M355.5 470.0h0M352.6 477.8h0M373.0 480.3h0M331.3 479.4h0M351.2 467.9h0M332.5 470.7h0M358.4 466.1h0M366.3 473.7h0M339.4 472.2h0M360.2 478.5h0M364.7 479.0h0M328.4 473.1h0M333.2 477.5h0M355.9 478.8h0M368.2 468.2h0M353.7 470.2h0M327.8 472.7h0M357.1 465.8h0M342.4 472.8h0M327.9 473.0h0M351.8 479.8h0M345.0 473.6h0M365.8 472.5h0M350.0 472.3h0M344.1 468.8h0M342.1 477.9h0M372.6 479.9h0M342.8 471.4h0M337.6 472.2h0M346.5 479.4h0M359.8 466.5h0M328.7 479.6h0M352.5 477.8h0M352.0 467.7h0M333.0 472.5h0M337.7 471.6h0M352.1 466.1h0M371.4 478.9h0M346.9 467.8h0M328.4 475.6h0M362.9 464.8h0M339.3 478.9h0M334.1 472.7h0M334.3 476.4h0M372.4 478.8h0M326.1 478.8h0M350.6 471.4h0M341.8 476.4h0M353.2 476.5h0M361.7 462.3h0M328.0 479.5h0M333.1 472.1h0M365.7 468.8h0M335.1 474.7h0M338.2 477.4h0M365.5 475.3h0M332.6 471.0h0M336.4 476.8h0M359.8 476.2h0M328.2 474.5h0M355.8 464.4h0M326.5 478.2h0M360.3 463.4h0M345.9 475.3h0M360.4 470.2h0M363.2 467.5h0M350.7 479.1h0M354.2 475.6h0M351.3 477.8h0M328.7 473.5h0M336.8 479.4h0M354.2 478.3h0M364.6 479.3h0M335.1 468.2h0M364.1 449.8h0M358.4 458.9h0M352.1 445.9h0M335.6 436.3h0M358.2 458.8h0M325.6 471.0h0M338.1 464.9h0M333.3 468.6h0M359.4 458.4h0M352.8 462.2h0M345.6 460.3h0M347.9 457.1h0M367.3 465.7h0M331.2 464.4h0M346.5 464.2h0M344.0 459.5h0M371.6 475.3h0M342.8 440.6h0M327.8 469.5h0M368.1 464.9h0M371.9 465.6h0M364.0 457.3h0M362.6 456.6h0M370.2 460.1h0M357.6 459.3h0M357.1 456.5h0M329.9 468.7h0M371.7 474.0h0M349.7 460.4h0M359.0 459.2h0M361.9 456.4h0M365.5 460.0h0M354.6 454.6h0M366.9 464.9h0M364.9 457.2h0M339.1 463.0h0M349.6 462.4h0M373.2 464.8h0M330.8 469.4h0M331.2 460.4h0M339.7 466.9h0M327.6 469.0h0M335.4 465.2h0M358.5 460.7h0M367.2 459.1h0M341.6 465.0h0M357.8 458.7h0M347.0 461.8h0M342.7 458.4h0M349.6 462.1h0M367.6 465.5h0M362.5 457.1h0M362.6 460.6h0M342.0 455.8h0M361.4 382.4h0M335.9 397.5h0M309.3 405.6h0M354.0 421.4h0M344.9 431.3h0M361.1 431.1h0M361.6 431.9h0M357.7 433.9h0M340.2 434.7h0M318.6 441.2h0M327.1 439.9h0M336.8 439.9h0M354.9 441.5h0M357.3 441.5h0M347.5 447.7h0M352.1 446.9h0M363.9 447.7h0M365.0 445.8h0M310.5 452.4h0M323.7 452.8h0M321.8 460.4h0M326.2 464.0h0M322.5 468.7h0M321.1 469.8h0M347.3 447.6h0M351.9 446.8h0M364.7 446.1h0M362.8 451.2h0M358.2 452.7h0M334.5 457.9h0M339.0 458.6h0M341.2 458.9h0M331.0 461.8h0M350.2 457.2h0M355.0 458.2h0M318.2 441.5h0M326.9 440.7h0M337.1 440.4h0" stroke="#00ff00" stroke-width="2.70" stroke-linecap="round" fill="none"/>
<path d="M401.7 466.7h0M413.0 474.6h0M380.6 472.2h0M402.6 479.4h0M396.2 472.3h0M399.9 478.0h0M389.5 468.2h0M385.2 479.3h0M401.5 480.3h0M410.4 478.9h0M414.4 480.0h0M413.6 477.9h0M386.8 470.3h0M413.8 479.7h0M392.4 479.1h0M381.9 473.8h0M379.7 480.2h0M390.6 473.9h0M390.8 469.3h0M381.6 480.2h0M406.1 480.2h0M407.5 472.9h0M379.9 480.1h0M413.4 477.0h0M412.5 478.6h0M392.2 467.5h0M383.4 469.6h0M410.0 468.1h0M382.8 473.2h0M412.1 472.8h0M398.9 476.5h0M385.9 479.1h0M404.0 478.9h0M381.3 475.1h0M394.0 471.4h0M408.9 476.0h0M381.6 480.2h0M397.1 479.2h0M405.5 471.1h0M407.5 475.4h0M384.9 477.4h0M395.6 465.3h0M414.2 479.5h0M405.4 477.2h0M393.9 475.6h0M414.6 479.9h0M397.3 479.7h0M389.2 466.0h0M392.4 467.5h0M404.2 468.1h0M392.5 477.2h0M396.8 469.0h0M390.0 470.6h0M400.2 472.0h0M388.5 474.4h0M408.5 469.5h0M391.9 468.4h0M408.9 469.0h0M410.4 468.3h0M413.5 478.4h0M385.5 465.3h0M396.5 468.4h0M405.5 467.9h0M400.2 474.6h0M401.7 470.3h0M405.1 478.9h0M395.2 478.1h0M403.9 480.1h0M396.3 480.0h0M384.3 478.9h0M386.4 474.6h0M393.1 471.5h0M388.0 480.3h0M394.0 475.0h0M383.7 476.5h0M380.9 479.9h0M398.9 471.3h0M413.5 479.0h0M408.4 476.6h0M384.6 473.2h0M413.5 478.0h0M392.0 480.3h0M383.4 472.8h0M384.6 466.8h0M392.9 478.0h0M389.9 475.7h0M413.6 478.3h0M388.8 473.8h0M394.3 462.1h0M397.0 473.6h0M383.9 475.4h0M390.0 466.7h0M380.1 479.7h0M412.7 479.3h0M389.1 463.1h0M390.0 474.1h0M402.4 468.1h0M383.8 477.5h0M398.5 476.8h0M398.4 475.7h0M406.0 480.1h0M388.5 465.0h0M411.0 480.3h0M407.2 472.8h0M404.7 473.9h0M411.9 477.9h0M409.8 477.8h0M409.0 469.2h0M404.2 477.2h0M407.2 479.2h0M396.5 473.2h0M391.3 471.7h0M408.3 478.4h0M408.6 472.0h0M380.5 472.8h0M414.9 480.3h0M409.4 472.8h0M413.3 480.0h0M390.0 479.1h0M401.2 478.8h0M401.6 479.5h0M393.0 480.0h0M400.0 464.2h0M384.4 477.2h0M400.8 462.9h0M392.8 469.2h0M384.9 474.0h0M411.8 475.7h0M388.9 477.7h0M406.2 479.3h0M387.9 469.1h0M385.9 471.1h0M382.6 479.8h0M384.0 478.2h0M410.6 477.9h0M407.8 470.4h0M381.5 468.4h0M403.7 479.4h0M414.0 478.3h0M384.5 476.6h0M387.9 471.6h0M391.9 479.2h0M409.0 469.8h0M394.9 472.9h0M400.6 467.8h0M393.6 480.1h0M386.8 466.0h0M396.6 480.3h0M396.2 470.7h0M394.8 479.6h0M385.1 476.2h0M393.3 479.0h0M388.6 479.0h0M389.8 473.9h0M380.7 477.9h0M412.8 476.4h0M396.3 479.4h0M403.3 469.8h0M405.4 478.4h0M380.5 480.1h0M393.8 475.8h0M390.6 477.2h0M405.5 478.9h0M388.1 464.5h0M402.5 462.5h0M379.8 479.3h0M394.1 472.3h0M414.6 480.2h0M382.9 468.1h0M397.0 480.0h0M388.2 475.6h0M381.7 476.6h0M390.4 480.1h0M414.0 479.2h0M393.8 479.7h0M390.7 472.7h0M412.2 473.7h0M387.2 473.2h0M396.8 475.5h0M401.7 463.8h0M390.5 466.6h0M387.5 477.0h0M382.7 469.7h0M390.7 479.8h0M388.3 475.0h0M400.0 479.9h0M404.4 478.4h0M389.7 479.6h0M394.5 467.8h0M399.3 469.7h0M406.5 474.9h0M408.5 466.4h0M405.4 477.5h0M408.3 479.4h0M381.9 478.3h0M403.5 479.9h0M406.6 480.2h0M381.4 477.3h0M410.0 473.7h0M387.8 476.2h0M391.3 471.8h0M408.9 479.8h0M398.4 468.5h0M395.4 466.7h0M383.8 467.0h0M395.9 474.3h0M406.8 473.5h0M413.9 480.2h0M408.4 480.1h0M414.2 479.4h0M396.7 475.2h0M387.2 478.5h0M399.5 467.4h0M388.2 477.9h0M414.4 479.1h0M401.5 479.1h0M409.0 480.2h0M385.6 469.9h0M411.5 473.1h0M391.1 465.6h0M401.7 475.5h0M380.0 479.1h0M386.1 477.0h0M380.6 478.2h0M396.5 475.1h0M414.4 479.0h0M404.1 472.8h0M407.9 472.9h0M403.7 477.2h0M382.4 477.1h0M400.1 468.3h0M390.5 477.4h0M404.9 468.4h0M403.3 464.7h0M403.9 468.5h0M401.2 472.8h0M411.3 470.4h0M398.9 480.3h0M393.4 470.1h0M411.4 475.3h0M393.3 469.3h0M399.2 475.5h0M411.0 478.2h0M389.1 465.3h0M385.5 469.0h0M387.6 472.6h0M409.0 471.1h0M394.4 472.7h0M411.6 478.7h0M401.0 478.5h0M380.7 476.1h0M401.0 478.4h0M400.6 468.9h0M405.4 474.0h0M409.1 477.4h0M409.7 468.1h0M387.7 466.9h0M396.5 478.4h0M385.1 479.1h0M401.4 467.5h0M405.7 467.5h0M404.8 463.7h0M401.7 479.5h0M383.2 478.7h0M392.9 469.6h0M405.9 475.4h0M398.8 479.3h0M400.7 469.1h0M397.1 462.8h0M382.2 471.8h0M390.1 474.0h0M392.1 464.0h0M393.1 473.3h0M404.3 472.0h0M390.1 466.2h0M398.0 474.6h0M388.0 479.9h0M389.2 474.1h0M414.5 480.0h0M412.7 478.6h0M408.3 470.0h0M392.4 477.7h0M395.8 472.8h0M381.5 468.0h0M395.3 479.7h0M389.5 469.9h0M397.6 475.2h0M407.2 472.5h0M411.5 475.2h0M380.9 472.6h0M394.2 466.1h0M412.0 471.7h0M406.4 479.1h0M407.2 464.9h0M414.8 480.3h0M389.2 477.3h0M403.2 478.8h0M395.8 475.4h0M411.4 479.3h0M380.3 475.2h0M400.8 477.8h0M412.2 480.2h0M386.1 477.7h0M406.3 468.4h0M385.0 464.6h0M404.5 479.5h0M402.4 475.7h0M396.5 462.3h0M388.1 477.6h0M398.9 479.2h0M396.6 480.3h0M406.9 474.0h0M401.2 480.0h0M397.3 475.3h0M391.8 477.0h0M395.5 463.5h0M392.7 468.8h0M412.8 473.6h0M390.3 464.2h0M382.3 471.4h0M398.3 463.2h0M390.2 466.6h0M384.5 474.4h0M399.6 473.9h0M381.7 477.4h0M384.7 477.8h0M389.4 468.8h0M388.9 471.3h0M393.4 477.7h0M388.9 474.8h0M411.4 479.7h0M381.4 474.6h0M379.9 478.4h0M397.1 480.1h0M400.4 468.2h0M401.2 478.0h0M413.2 480.2h0M403.8 479.9h0M395.9 464.3h0M405.1 470.8h0M409.5 471.0h0M388.8 480.3h0M406.4 465.7h0M396.1 478.1h0M388.9 478.4h0M382.7 479.9h0M394.7 470.1h0M385.8 474.2h0M403.9 472.0h0M411.9 478.9h0M397.1 464.0h0M399.3 474.6h0M407.4 477.4h0M383.4 476.8h0M411.1 474.7h0M402.3 479.4h0M406.9 479.6h0M402.0 471.6h0M381.4 477.0h0M402.1 477.5h0M394.1 479.6h0M381.9 476.5h0M410.4 478.0h0M386.0 468.4h0M411.3 479.9h0M394.3 480.2h0M399.6 479.4h0M397.7 462.7h0M396.1 467.3h0M383.7 479.8h0M414.5 480.0h0M389.2 463.4h0M394.7 472.9h0M412.1 475.9h0M412.1 474.1h0M398.3 480.0h0M412.8 478.2h0M412.1 477.1h0M389.7 477.7h0M396.3 471.0h0M384.4 470.9h0M405.4 462.9h0M384.3 479.8h0M395.4 465.2h0M385.4 479.6h0M400.1 475.8h0M381.5 479.6h0M406.7 472.3h0M402.2 464.9h0M412.1 478.5h0M410.6 466.3h0M394.3 461.2h0M402.8 456.7h0M379.6 479.2h0M409.8 464.6h0M409.3 464.6h0M405.5 457.9h0M401.3 460.8h0M397.1 455.1h0M406.9 463.7h0M398.5 460.7h0M386.8 455.8h0M388.0 458.9h0M393.2 460.8h0M389.3 458.5h0M400.2 458.3h0M395.0 456.3h0M392.8 456.2h0M429.1 479.3h0M405.4 480.1h0M411.0 472.3h0M412.0 478.4h0M424.9 472.3h0M417.8 475.2h0M415.5 473.8h0M414.0 468.2h0M421.1 470.2h0M429.9 480.7h0M405.5 480.2h0M423.0 475.9h0M427.2 480.0h0M406.2 478.4h0M418.9 474.7h0M413.8 477.4h0M425.6 473.4h0M413.4 479.9h0M416.9 474.7h0M412.2 469.2h0M428.6 479.2h0M406.1 478.6h0M419.2 470.6h0M419.8 478.1h0M407.1 479.1h0M421.2 477.2h0M419.9 470.2h0M427.3 477.1h0M413.7 474.7h0M408.6 471.8h0M422.1 477.7h0M413.5 479.0h0M407.7 477.2h0M408.2 478.4h0M423.4 476.1h0M427.7 476.8h0M405.1 480.3h0M421.4 474.8h0M423.8 478.7h0M418.9 479.5h0M418.3 479.0h0M415.2 479.3h0M406.5 478.3h0M424.6 475.0h0M410.1 471.2h0M423.0 471.0h0M410.7 470.0h0M406.4 479.4h0M426.9 477.5h0M417.5 474.9h0M397.0 397.4h0M403.0 402.3h0M407.2 405.3h0M417.2 410.2h0M449.8 402.1h0M402.6 426.2h0M395.5 429.4h0M396.0 431.5h0M399.1 440.6h0M419.4 441.5h0M426.4 440.4h0M385.3 448.9h0M385.3 452.8h0M391.3 446.8h0M394.9 446.4h0M397.2 450.2h0M401.5 453.4h0M404.0 451.1h0M404.0 455.3h0M409.4 451.7h0M415.1 459.1h0M417.9 461.7h0M441.9 456.0h0M444.0 459.6h0M431.7 469.8h0M432.8 471.5h0M421.1 465.5h0M491.9 465.1h0M403.9 451.0h0M409.7 451.6h0M415.5 459.3h0M417.8 462.2h0M421.3 466.1h0M431.9 469.4h0M432.9 471.5h0" stroke="#ff0000" stroke-width="2.70" stroke-linecap="round" fill="none"/>
<path d="M372.8 481L376.4 486.6L380.2 481Z" fill="#fff"/>
<line x1="301" y1="481.3" x2="501" y2="481.3" stroke="#333" stroke-width="0.75" stroke-dasharray="2.4 2"/>
<line x1="298.5" y1="339.1" x2="300.3" y2="339.1" stroke="#555" stroke-width="0.5"/>
<text x="297.7" y="340.7" font-size="4.6" text-anchor="end" fill="#4d4d4d" font-family='"Liberation Sans", sans-serif'>30</text>
<line x1="298.5" y1="413.4" x2="300.3" y2="413.4" stroke="#555" stroke-width="0.5"/>
<text x="297.7" y="415.0" font-size="4.6" text-anchor="end" fill="#4d4d4d" font-family='"Liberation Sans", sans-serif'>15</text>
<line x1="298.5" y1="481.3" x2="300.3" y2="481.3" stroke="#555" stroke-width="0.5"/>
<text x="297.7" y="482.9" font-size="4.6" text-anchor="end" fill="#4d4d4d" font-family='"Liberation Sans", sans-serif'>1.3</text>
<line x1="298.5" y1="487.8" x2="300.3" y2="487.8" stroke="#555" stroke-width="0.5"/>
<text x="297.7" y="489.4" font-size="4.6" text-anchor="end" fill="#4d4d4d" font-family='"Liberation Sans", sans-serif'>0</text>
<line x1="321" y1="498.2" x2="321" y2="500.0" stroke="#555" stroke-width="0.5"/>
<text x="321" y="504.8" font-size="4.6" text-anchor="middle" fill="#4d4d4d" font-family='"Liberation Sans", sans-serif'>-10</text>
<line x1="376.3" y1="498.2" x2="376.3" y2="500.0" stroke="#555" stroke-width="0.5"/>
<text x="376.3" y="504.8" font-size="4.6" text-anchor="middle" fill="#4d4d4d" font-family='"Liberation Sans", sans-serif'>0</text>
<line x1="431.6" y1="498.2" x2="431.6" y2="500.0" stroke="#555" stroke-width="0.5"/>
<text x="431.6" y="504.8" font-size="4.6" text-anchor="middle" fill="#4d4d4d" font-family='"Liberation Sans", sans-serif'>10</text>
<line x1="486.9" y1="498.2" x2="486.9" y2="500.0" stroke="#555" stroke-width="0.5"/>
<text x="486.9" y="504.8" font-size="4.6" text-anchor="middle" fill="#4d4d4d" font-family='"Liberation Sans", sans-serif'>20</text>
<path d="M300.3 287.8V498.2H501" stroke="#777" stroke-width="1.15" fill="none"/>
<text x="378.6" y="305" font-size="12" font-weight="bold" text-anchor="middle" fill="#111" font-family='"Liberation Serif", serif'>FLR vs. UFLR</text>
<text x="400.7" y="511.4" font-size="5.9" text-anchor="middle" fill="#222" font-family='"Liberation Sans", sans-serif'>log2FoldChange</text>
<text transform="translate(288.1 378.6) rotate(-90)" font-size="5.9" text-anchor="middle" fill="#222" font-family='"Liberation Sans", sans-serif'>-log10(padj)</text>
<text x="510.2" y="370.4" font-size="6" fill="#222" font-family='"Liberation Sans", sans-serif'>type</text>
<rect x="510.2" y="374.2" width="9.3" height="17.6" fill="#f0f0f0"/>
<circle cx="514.8" cy="378.7" r="1.35" fill="#ff0000"/>
<circle cx="514.8" cy="387.6" r="1.35" fill="#00ff00"/>
<text x="522.4" y="380.3" font-size="4.5" fill="#333" font-family='"Liberation Sans", sans-serif'>up: 572</text>
<text x="522.4" y="389.2" font-size="4.5" fill="#333" font-family='"Liberation Sans", sans-serif'>down: 461</text>
<text x="5.4" y="297.6" font-size="19.6" font-weight="bold" fill="#000" font-family='"Liberation Serif", serif'>C</text>
</svg>
</body></html>
